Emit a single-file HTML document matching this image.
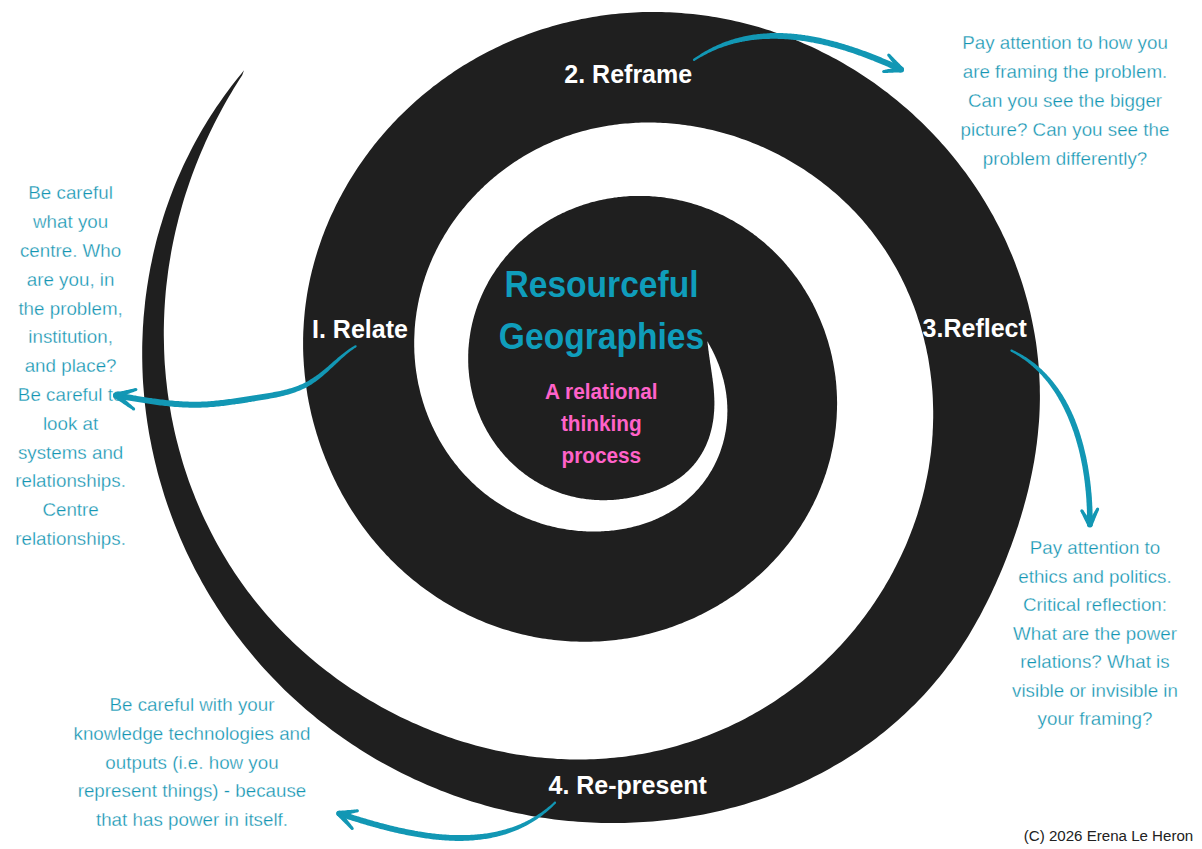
<!DOCTYPE html>
<html><head><meta charset="utf-8"><title>Resourceful Geographies</title>
<style>
html,body{margin:0;padding:0;background:#fff;width:1202px;height:849px;overflow:hidden}
svg{display:block;font-family:"Liberation Sans",sans-serif}
</style></head><body>
<svg width="1202" height="849" viewBox="0 0 1202 849">
<rect width="1202" height="849" fill="#fff"/>
<path d="M244.0 70.2 L240.9 74.3 L237.6 78.2 L234.4 82.2 L231.3 86.3 L228.2 90.4 L225.2 94.5 L222.2 98.7 L219.3 102.9 L216.4 107.1 L213.5 111.4 L210.7 115.7 L208.0 120.0 L205.3 124.4 L202.7 128.8 L200.1 133.2 L197.6 137.7 L195.1 142.2 L192.7 146.7 L190.4 151.3 L188.1 155.9 L185.8 160.5 L183.6 165.1 L181.5 169.7 L179.4 174.4 L177.4 179.1 L175.4 183.8 L173.5 188.6 L171.6 193.4 L169.8 198.2 L168.1 203.0 L166.4 207.8 L164.8 212.6 L163.2 217.5 L161.7 222.4 L160.2 227.3 L158.8 232.2 L157.4 237.1 L156.1 242.0 L154.9 247.0 L153.7 252.0 L152.6 256.9 L151.6 261.9 L150.5 266.9 L149.6 271.9 L148.7 276.9 L147.9 282.0 L147.1 287.0 L146.4 292.0 L145.7 297.1 L145.1 302.1 L144.6 307.2 L144.1 312.2 L143.6 317.3 L143.3 322.3 L142.9 327.4 L142.7 332.5 L142.5 337.5 L142.3 342.6 L142.2 347.6 L142.2 352.7 L142.2 357.7 L142.3 362.8 L142.4 367.8 L142.6 372.9 L142.8 377.9 L143.1 383.0 L143.5 388.0 L143.9 393.0 L144.3 398.0 L144.8 403.0 L145.4 408.0 L146.0 413.0 L146.7 418.0 L147.4 423.0 L148.2 427.9 L149.0 432.9 L149.9 437.8 L150.9 442.7 L151.8 447.6 L152.9 452.5 L154.0 457.4 L155.1 462.3 L156.3 467.1 L157.5 471.9 L158.8 476.8 L160.2 481.6 L161.6 486.3 L163.0 491.1 L164.5 495.9 L166.0 500.6 L167.6 505.3 L169.3 510.0 L171.0 514.7 L172.7 519.3 L174.5 523.9 L176.3 528.5 L178.2 533.1 L180.1 537.7 L182.1 542.2 L184.1 546.7 L186.1 551.2 L188.3 555.7 L190.4 560.1 L192.6 564.5 L194.8 568.9 L197.1 573.3 L199.5 577.6 L201.8 581.9 L204.3 586.2 L206.7 590.5 L209.2 594.7 L211.8 598.9 L214.4 603.0 L217.0 607.2 L219.7 611.3 L222.4 615.4 L225.1 619.4 L227.9 623.4 L230.8 627.4 L233.6 631.3 L236.5 635.3 L239.5 639.1 L242.5 643.0 L245.5 646.8 L248.6 650.6 L251.7 654.3 L254.8 658.1 L258.0 661.7 L261.2 665.4 L264.4 669.0 L267.7 672.6 L271.0 676.1 L274.4 679.6 L277.8 683.1 L281.2 686.5 L284.6 689.9 L288.1 693.2 L291.6 696.5 L295.2 699.8 L298.8 703.1 L302.4 706.3 L306.0 709.4 L309.7 712.5 L313.4 715.6 L317.1 718.7 L320.9 721.7 L324.7 724.6 L328.5 727.5 L332.3 730.4 L336.2 733.3 L340.1 736.1 L344.0 738.8 L348.0 741.5 L352.0 744.2 L356.0 746.8 L360.0 749.4 L364.0 752.0 L368.1 754.5 L372.2 756.9 L376.3 759.4 L380.4 761.7 L384.6 764.1 L388.8 766.3 L393.0 768.6 L397.2 770.8 L401.5 773.0 L405.7 775.1 L410.0 777.1 L414.3 779.2 L418.6 781.1 L423.0 783.1 L427.3 785.0 L431.7 786.8 L436.1 788.6 L440.5 790.4 L444.9 792.1 L449.3 793.7 L453.8 795.4 L458.3 796.9 L462.7 798.5 L467.2 799.9 L471.7 801.4 L476.2 802.8 L480.8 804.1 L485.3 805.4 L489.9 806.7 L494.4 807.9 L499.0 809.0 L503.6 810.1 L508.2 811.2 L512.8 812.2 L517.4 813.2 L522.0 814.1 L526.6 815.0 L531.2 815.9 L535.9 816.7 L540.5 817.4 L545.1 818.1 L549.8 818.8 L554.5 819.4 L559.1 819.9 L563.8 820.4 L568.4 820.9 L573.1 821.3 L577.8 821.7 L582.5 822.0 L587.1 822.3 L591.8 822.5 L596.5 822.7 L601.2 822.9 L605.9 823.0 L610.5 823.0 L615.2 823.0 L619.9 823.0 L624.6 822.9 L629.3 822.8 L633.9 822.6 L638.6 822.3 L643.3 822.1 L647.9 821.8 L652.6 821.4 L657.2 821.0 L661.9 820.5 L666.5 820.0 L671.2 819.5 L675.8 818.9 L680.4 818.3 L685.0 817.6 L689.7 816.8 L694.3 816.1 L698.9 815.2 L703.4 814.4 L708.0 813.4 L712.6 812.5 L717.1 811.5 L721.7 810.4 L726.2 809.3 L730.7 808.1 L735.2 806.9 L739.7 805.7 L744.2 804.4 L748.7 803.0 L753.1 801.6 L757.5 800.2 L762.0 798.7 L766.4 797.2 L770.7 795.6 L775.1 793.9 L779.4 792.3 L783.8 790.5 L788.1 788.8 L792.4 786.9 L796.6 785.1 L800.9 783.2 L805.1 781.2 L809.3 779.2 L813.5 777.1 L817.6 775.0 L821.7 772.9 L825.8 770.7 L829.9 768.4 L833.9 766.1 L838.0 763.8 L842.0 761.4 L845.9 759.0 L849.8 756.5 L853.7 754.0 L857.6 751.4 L861.5 748.8 L865.3 746.1 L869.0 743.4 L872.8 740.7 L876.5 737.9 L880.1 735.0 L883.8 732.2 L887.4 729.2 L890.9 726.3 L894.4 723.3 L897.9 720.2 L901.4 717.1 L904.8 714.0 L908.1 710.8 L911.4 707.6 L914.7 704.4 L918.0 701.1 L921.2 697.7 L924.3 694.4 L927.4 691.0 L930.5 687.5 L933.5 684.1 L936.4 680.5 L939.4 677.0 L942.2 673.4 L945.1 669.8 L947.8 666.1 L950.6 662.5 L953.3 658.7 L955.9 655.0 L958.5 651.2 L961.0 647.4 L963.5 643.6 L966.0 639.7 L968.4 635.9 L970.7 632.0 L973.0 628.0 L975.3 624.1 L977.5 620.1 L979.7 616.2 L981.8 612.2 L983.9 608.1 L986.0 604.1 L988.0 600.1 L990.0 596.0 L991.9 591.9 L993.8 587.8 L995.7 583.8 L997.5 579.6 L999.3 575.5 L1001.0 571.4 L1002.8 567.3 L1004.5 563.1 L1006.1 559.0 L1007.7 554.8 L1009.3 550.6 L1010.9 546.4 L1012.4 542.2 L1013.9 538.0 L1015.4 533.8 L1016.8 529.6 L1018.2 525.4 L1019.5 521.1 L1020.8 516.9 L1022.1 512.6 L1023.3 508.4 L1024.5 504.1 L1025.7 499.8 L1026.8 495.5 L1027.9 491.2 L1028.9 486.9 L1029.9 482.6 L1030.8 478.3 L1031.7 473.9 L1032.6 469.6 L1033.4 465.3 L1034.2 460.9 L1034.9 456.5 L1035.6 452.2 L1036.2 447.8 L1036.8 443.4 L1037.3 439.0 L1037.8 434.7 L1038.2 430.3 L1038.6 425.9 L1039.0 421.5 L1039.3 417.1 L1039.5 412.7 L1039.7 408.3 L1039.8 403.9 L1039.9 399.5 L1039.9 395.1 L1039.8 390.7 L1039.8 386.3 L1039.6 381.9 L1039.4 377.5 L1039.2 373.1 L1038.9 368.7 L1038.5 364.3 L1038.1 360.0 L1037.6 355.6 L1037.1 351.3 L1036.6 346.9 L1036.0 342.6 L1035.3 338.3 L1034.6 334.0 L1033.8 329.7 L1033.0 325.4 L1032.1 321.1 L1031.2 316.8 L1030.3 312.6 L1029.2 308.3 L1028.2 304.1 L1027.1 299.9 L1025.9 295.7 L1024.7 291.5 L1023.5 287.4 L1022.2 283.3 L1020.8 279.1 L1019.4 275.0 L1018.0 271.0 L1016.5 266.9 L1015.0 262.8 L1013.4 258.8 L1011.8 254.8 L1010.1 250.9 L1008.4 246.9 L1006.7 243.0 L1004.9 239.1 L1003.0 235.2 L1001.2 231.3 L999.3 227.5 L997.3 223.7 L995.3 219.9 L993.3 216.1 L991.2 212.4 L989.1 208.7 L986.9 205.0 L984.7 201.3 L982.5 197.7 L980.2 194.1 L977.9 190.5 L975.6 187.0 L973.2 183.5 L970.8 180.0 L968.3 176.5 L965.9 173.1 L963.3 169.7 L960.8 166.4 L958.2 163.0 L955.6 159.7 L953.0 156.5 L950.3 153.2 L947.6 150.0 L944.8 146.8 L942.0 143.7 L939.2 140.6 L936.4 137.5 L933.6 134.5 L930.7 131.5 L927.7 128.5 L924.8 125.5 L921.8 122.6 L918.8 119.7 L915.8 116.9 L912.8 114.1 L909.7 111.3 L906.6 108.6 L903.5 105.9 L900.3 103.2 L897.1 100.5 L893.9 97.9 L890.7 95.4 L887.5 92.8 L884.2 90.4 L880.9 87.9 L877.6 85.5 L874.3 83.1 L870.9 80.7 L867.5 78.4 L864.1 76.2 L860.7 73.9 L857.3 71.7 L853.8 69.6 L850.3 67.4 L846.9 65.4 L843.3 63.3 L839.8 61.3 L836.3 59.3 L832.7 57.4 L829.1 55.5 L825.5 53.7 L821.9 51.9 L818.3 50.1 L814.7 48.3 L811.0 46.6 L807.3 45.0 L803.7 43.4 L800.0 41.8 L796.3 40.3 L792.5 38.8 L788.8 37.3 L785.1 35.9 L781.3 34.5 L777.6 33.2 L773.8 31.9 L770.0 30.6 L766.2 29.4 L762.4 28.2 L758.6 27.1 L754.8 26.0 L751.0 25.0 L747.1 24.0 L743.3 23.0 L739.4 22.1 L735.6 21.2 L731.7 20.3 L727.9 19.5 L724.0 18.7 L720.1 18.0 L716.2 17.3 L712.4 16.7 L708.5 16.1 L704.6 15.5 L700.7 15.0 L696.8 14.5 L692.9 14.1 L689.1 13.7 L685.2 13.4 L681.3 13.0 L677.4 12.8 L673.5 12.5 L669.6 12.3 L665.7 12.2 L661.8 12.1 L658.0 12.0 L654.1 12.0 L650.2 12.0 L646.3 12.1 L642.5 12.1 L638.6 12.3 L634.8 12.5 L630.9 12.7 L627.1 12.9 L623.2 13.2 L619.4 13.6 L615.6 13.9 L611.7 14.3 L607.9 14.8 L604.1 15.3 L600.3 15.8 L596.6 16.4 L592.8 17.0 L589.0 17.7 L585.3 18.4 L581.5 19.1 L577.8 19.9 L574.1 20.7 L570.4 21.5 L566.7 22.4 L563.0 23.3 L559.3 24.3 L555.7 25.3 L552.0 26.3 L548.4 27.4 L544.8 28.5 L541.2 29.6 L537.6 30.8 L534.0 32.0 L530.5 33.3 L527.0 34.6 L523.4 35.9 L519.9 37.2 L516.5 38.6 L513.0 40.1 L509.6 41.5 L506.1 43.0 L502.7 44.6 L499.3 46.2 L496.0 47.8 L492.6 49.4 L489.3 51.1 L486.0 52.8 L482.7 54.5 L479.4 56.3 L476.2 58.1 L473.0 59.9 L469.8 61.8 L466.6 63.7 L463.4 65.6 L460.3 67.6 L457.2 69.6 L454.1 71.6 L451.1 73.7 L448.0 75.7 L445.0 77.9 L442.0 80.0 L439.1 82.2 L436.2 84.4 L433.2 86.6 L430.4 88.9 L427.5 91.2 L424.7 93.5 L421.9 95.8 L419.1 98.2 L416.4 100.6 L413.7 103.0 L411.0 105.5 L408.3 107.9 L405.7 110.4 L403.1 113.0 L400.5 115.5 L397.9 118.1 L395.4 120.7 L392.9 123.3 L390.5 126.0 L388.1 128.6 L385.7 131.3 L383.3 134.0 L381.0 136.8 L378.6 139.5 L376.4 142.3 L374.1 145.1 L371.9 147.9 L369.7 150.8 L367.6 153.7 L365.5 156.5 L363.4 159.4 L361.3 162.4 L359.3 165.3 L357.3 168.3 L355.4 171.2 L353.5 174.2 L351.6 177.3 L349.7 180.3 L347.9 183.3 L346.1 186.4 L344.4 189.5 L342.7 192.6 L341.0 195.7 L339.3 198.8 L337.7 201.9 L336.1 205.1 L334.6 208.2 L333.1 211.4 L331.6 214.6 L330.1 217.8 L328.7 221.0 L327.4 224.3 L326.0 227.5 L324.7 230.8 L323.5 234.0 L322.2 237.3 L321.1 240.6 L319.9 243.9 L318.8 247.2 L317.7 250.5 L316.7 253.8 L315.7 257.1 L314.7 260.5 L313.8 263.8 L312.9 267.2 L312.0 270.5 L311.2 273.9 L310.4 277.3 L309.7 280.6 L309.0 284.0 L308.3 287.4 L307.7 290.8 L307.1 294.2 L306.6 297.6 L306.1 301.0 L305.6 304.4 L305.2 307.8 L304.8 311.2 L304.5 314.6 L304.2 318.0 L303.9 321.4 L303.7 324.8 L303.5 328.2 L303.3 331.6 L303.2 335.0 L303.1 338.4 L303.1 341.8 L303.1 345.2 L303.1 348.6 L303.2 352.0 L303.3 355.3 L303.5 358.7 L303.7 362.1 L303.9 365.4 L304.2 368.8 L304.5 372.2 L304.8 375.5 L305.2 378.8 L305.6 382.2 L306.0 385.5 L306.5 388.8 L307.0 392.1 L307.5 395.4 L308.1 398.6 L308.7 401.9 L309.4 405.2 L310.1 408.4 L310.8 411.7 L311.5 414.9 L312.3 418.1 L313.1 421.3 L314.0 424.5 L314.9 427.7 L315.8 430.8 L316.7 434.0 L317.7 437.1 L318.7 440.2 L319.7 443.3 L320.8 446.4 L321.9 449.5 L323.0 452.6 L324.2 455.6 L325.3 458.6 L326.6 461.6 L327.8 464.6 L329.1 467.6 L330.4 470.6 L331.7 473.5 L333.1 476.5 L334.5 479.4 L335.9 482.3 L337.3 485.2 L338.8 488.0 L340.3 490.8 L341.8 493.7 L343.4 496.5 L345.0 499.2 L346.6 502.0 L348.2 504.7 L349.9 507.5 L351.6 510.2 L353.3 512.8 L355.1 515.5 L356.8 518.1 L358.6 520.7 L360.4 523.3 L362.3 525.9 L364.2 528.4 L366.1 531.0 L368.0 533.5 L369.9 535.9 L371.9 538.4 L373.9 540.8 L375.9 543.2 L377.9 545.6 L380.0 548.0 L382.1 550.3 L384.2 552.6 L386.3 554.9 L388.5 557.1 L390.6 559.4 L392.8 561.6 L395.1 563.7 L397.3 565.9 L399.5 568.0 L401.8 570.1 L404.1 572.2 L406.4 574.2 L408.8 576.2 L411.1 578.2 L413.5 580.2 L415.9 582.1 L418.3 584.0 L420.7 585.9 L423.2 587.7 L425.6 589.5 L428.1 591.3 L430.6 593.1 L433.1 594.8 L435.6 596.5 L438.2 598.2 L440.7 599.8 L443.3 601.4 L445.9 603.0 L448.5 604.5 L451.1 606.0 L453.7 607.5 L456.4 609.0 L459.0 610.4 L461.7 611.8 L464.4 613.1 L467.0 614.5 L469.7 615.8 L472.5 617.0 L475.2 618.3 L477.9 619.5 L480.6 620.6 L483.4 621.8 L486.1 622.9 L488.9 624.0 L491.7 625.0 L494.5 626.0 L497.2 627.0 L500.0 627.9 L502.8 628.9 L505.6 629.8 L508.5 630.6 L511.3 631.4 L514.1 632.2 L516.9 633.0 L519.8 633.7 L522.6 634.4 L525.4 635.1 L528.3 635.7 L531.1 636.3 L534.0 636.9 L536.8 637.4 L539.7 637.9 L542.5 638.4 L545.4 638.8 L548.2 639.2 L551.1 639.6 L553.9 640.0 L556.8 640.3 L559.6 640.6 L562.5 640.8 L565.3 641.0 L568.2 641.2 L571.0 641.4 L573.9 641.5 L576.7 641.6 L579.5 641.7 L582.4 641.7 L585.2 641.8 L588.0 641.7 L590.9 641.7 L593.7 641.6 L596.5 641.5 L599.3 641.4 L602.1 641.2 L604.9 641.0 L607.7 640.8 L610.4 640.5 L613.2 640.2 L616.0 639.9 L618.7 639.6 L621.5 639.2 L624.2 638.8 L627.0 638.4 L629.7 637.9 L632.4 637.4 L635.1 636.9 L637.8 636.4 L640.5 635.8 L643.2 635.2 L645.8 634.6 L648.5 633.9 L651.1 633.3 L653.8 632.6 L656.4 631.8 L659.0 631.1 L661.6 630.3 L664.2 629.5 L666.8 628.7 L669.3 627.8 L671.9 626.9 L674.4 626.0 L676.9 625.1 L679.4 624.1 L681.9 623.2 L684.4 622.1 L686.9 621.1 L689.3 620.1 L691.8 619.0 L694.2 617.9 L696.6 616.8 L699.0 615.6 L701.4 614.5 L703.7 613.3 L706.1 612.1 L708.4 610.8 L710.7 609.6 L713.0 608.3 L715.3 607.0 L717.6 605.7 L719.8 604.3 L722.1 603.0 L724.3 601.6 L726.5 600.2 L728.6 598.8 L730.8 597.3 L733.0 595.9 L735.1 594.4 L737.2 592.9 L739.3 591.4 L741.3 589.8 L743.4 588.3 L745.4 586.7 L747.4 585.1 L749.4 583.5 L751.4 581.8 L753.4 580.2 L755.3 578.5 L757.2 576.8 L759.1 575.2 L761.0 573.4 L762.9 571.7 L764.7 570.0 L766.5 568.2 L768.3 566.4 L770.1 564.6 L771.8 562.8 L773.6 561.0 L775.3 559.1 L777.0 557.3 L778.6 555.4 L780.3 553.5 L781.9 551.6 L783.5 549.7 L785.1 547.8 L786.7 545.8 L788.2 543.9 L789.7 541.9 L791.2 539.9 L792.7 537.9 L794.1 535.9 L795.5 533.9 L796.9 531.8 L798.3 529.8 L799.7 527.7 L801.0 525.7 L802.3 523.6 L803.6 521.5 L804.9 519.4 L806.1 517.3 L807.3 515.2 L808.5 513.1 L809.7 510.9 L810.8 508.8 L812.0 506.6 L813.1 504.5 L814.1 502.3 L815.2 500.1 L816.2 497.9 L817.2 495.7 L818.2 493.5 L819.1 491.3 L820.1 489.1 L821.0 486.8 L821.8 484.6 L822.7 482.4 L823.5 480.1 L824.3 477.9 L825.1 475.6 L825.9 473.4 L826.6 471.1 L827.3 468.8 L828.0 466.5 L828.6 464.3 L829.3 462.0 L829.9 459.7 L830.5 457.4 L831.0 455.1 L831.5 452.8 L832.0 450.5 L832.5 448.2 L833.0 445.9 L833.4 443.6 L833.8 441.3 L834.2 439.0 L834.6 436.7 L834.9 434.4 L835.2 432.1 L835.5 429.7 L835.8 427.4 L836.0 425.1 L836.2 422.8 L836.4 420.5 L836.6 418.2 L836.7 415.9 L836.8 413.6 L836.9 411.3 L837.0 409.0 L837.0 406.7 L837.1 404.4 L837.1 402.1 L837.0 399.8 L837.0 397.5 L836.9 395.3 L836.8 393.0 L836.7 390.7 L836.5 388.4 L836.4 386.2 L836.2 383.9 L836.0 381.6 L835.7 379.4 L835.5 377.1 L835.2 374.9 L834.9 372.7 L834.5 370.4 L834.2 368.2 L833.8 366.0 L833.4 363.8 L833.0 361.6 L832.5 359.4 L832.1 357.2 L831.6 355.0 L831.1 352.9 L830.6 350.7 L830.0 348.6 L829.4 346.4 L828.8 344.3 L828.2 342.1 L827.6 340.0 L826.9 337.9 L826.2 335.8 L825.5 333.7 L824.8 331.6 L824.1 329.6 L823.3 327.5 L822.5 325.5 L821.7 323.4 L820.9 321.4 L820.1 319.4 L819.2 317.4 L818.3 315.4 L817.4 313.4 L816.5 311.4 L815.6 309.4 L814.6 307.5 L813.6 305.6 L812.7 303.6 L811.6 301.7 L810.6 299.8 L809.6 297.9 L808.5 296.1 L807.4 294.2 L806.3 292.4 L805.2 290.5 L804.0 288.7 L802.9 286.9 L801.7 285.1 L800.5 283.3 L799.3 281.6 L798.1 279.8 L796.9 278.1 L795.6 276.4 L794.3 274.7 L793.0 273.0 L791.7 271.3 L790.4 269.7 L789.1 268.0 L787.7 266.4 L786.4 264.8 L785.0 263.2 L783.6 261.6 L782.2 260.1 L780.8 258.5 L779.3 257.0 L777.9 255.5 L776.4 254.0 L774.9 252.5 L773.4 251.0 L771.9 249.6 L770.4 248.2 L768.9 246.8 L767.3 245.4 L765.8 244.0 L764.2 242.6 L762.6 241.3 L761.0 240.0 L759.4 238.7 L757.8 237.4 L756.2 236.1 L754.5 234.9 L752.9 233.6 L751.2 232.4 L749.5 231.2 L747.8 230.1 L746.2 228.9 L744.4 227.8 L742.7 226.6 L741.0 225.5 L739.3 224.5 L737.5 223.4 L735.8 222.4 L734.0 221.3 L732.3 220.3 L730.5 219.4 L728.7 218.4 L726.9 217.4 L725.1 216.5 L723.3 215.6 L721.5 214.7 L719.6 213.9 L717.8 213.0 L716.0 212.2 L714.1 211.4 L712.3 210.6 L710.4 209.8 L708.6 209.1 L706.7 208.4 L704.8 207.7 L702.9 207.0 L701.1 206.3 L699.2 205.7 L697.3 205.0 L695.4 204.4 L693.5 203.9 L691.6 203.3 L689.7 202.8 L687.8 202.2 L685.8 201.7 L683.9 201.3 L682.0 200.8 L680.1 200.4 L678.1 199.9 L676.2 199.5 L674.3 199.2 L672.3 198.8 L670.4 198.5 L668.5 198.2 L666.5 197.9 L664.6 197.6 L662.7 197.3 L660.7 197.1 L658.8 196.9 L656.8 196.7 L654.9 196.5 L652.9 196.4 L651.0 196.2 L649.1 196.1 L647.1 196.0 L645.2 196.0 L643.3 195.9 L641.3 195.9 L639.4 195.9 L637.5 195.9 L635.5 195.9 L633.6 196.0 L631.7 196.1 L629.8 196.1 L627.8 196.3 L625.9 196.4 L624.0 196.5 L622.1 196.7 L620.2 196.9 L618.3 197.1 L616.4 197.4 L614.5 197.6 L612.6 197.9 L610.7 198.2 L608.9 198.5 L607.0 198.8 L605.1 199.2 L603.3 199.5 L601.4 199.9 L599.6 200.3 L597.7 200.8 L595.9 201.2 L594.1 201.7 L592.2 202.1 L590.4 202.6 L588.6 203.2 L586.8 203.7 L585.0 204.3 L583.2 204.8 L581.5 205.4 L579.7 206.0 L577.9 206.7 L576.2 207.3 L574.5 208.0 L572.7 208.7 L571.0 209.4 L569.3 210.1 L567.6 210.8 L565.9 211.6 L564.2 212.4 L562.5 213.1 L560.8 214.0 L559.2 214.8 L557.5 215.6 L555.9 216.5 L554.3 217.3 L552.7 218.2 L551.1 219.1 L549.5 220.1 L547.9 221.0 L546.3 221.9 L544.8 222.9 L543.2 223.9 L541.7 224.9 L540.2 225.9 L538.7 226.9 L537.2 228.0 L535.7 229.0 L534.3 230.1 L532.8 231.2 L531.4 232.3 L529.9 233.4 L528.5 234.6 L527.1 235.7 L525.7 236.9 L524.4 238.0 L523.0 239.2 L521.7 240.4 L520.3 241.6 L519.0 242.8 L517.7 244.1 L516.4 245.3 L515.2 246.6 L513.9 247.9 L512.7 249.2 L511.4 250.5 L510.2 251.8 L509.0 253.1 L507.9 254.4 L506.7 255.8 L505.5 257.1 L504.4 258.5 L503.3 259.9 L502.2 261.2 L501.1 262.6 L500.0 264.0 L499.0 265.5 L498.0 266.9 L496.9 268.3 L495.9 269.8 L495.0 271.2 L494.0 272.7 L493.0 274.2 L492.1 275.6 L491.2 277.1 L490.3 278.6 L489.4 280.1 L488.5 281.6 L487.7 283.2 L486.9 284.7 L486.1 286.2 L485.3 287.8 L484.5 289.3 L483.7 290.9 L483.0 292.4 L482.3 294.0 L481.6 295.6 L480.9 297.2 L480.2 298.7 L479.6 300.3 L478.9 301.9 L478.3 303.5 L477.7 305.1 L477.1 306.7 L476.6 308.3 L476.0 310.0 L475.5 311.6 L475.0 313.2 L474.5 314.8 L474.0 316.5 L473.6 318.1 L473.1 319.7 L472.7 321.4 L472.3 323.0 L471.9 324.7 L471.6 326.3 L471.2 328.0 L470.9 329.6 L470.6 331.3 L470.3 332.9 L470.1 334.6 L469.8 336.2 L469.6 337.9 L469.3 339.5 L469.2 341.2 L469.0 342.8 L468.8 344.5 L468.7 346.1 L468.5 347.8 L468.4 349.4 L468.3 351.1 L468.3 352.7 L468.2 354.4 L468.2 356.0 L468.2 357.7 L468.2 359.3 L468.2 361.0 L468.2 362.6 L468.3 364.2 L468.3 365.9 L468.4 367.5 L468.5 369.1 L468.7 370.8 L468.8 372.4 L469.0 374.0 L469.1 375.6 L469.3 377.2 L469.5 378.8 L469.8 380.4 L470.0 382.0 L470.3 383.6 L470.5 385.2 L470.8 386.8 L471.1 388.3 L471.5 389.9 L471.8 391.5 L472.2 393.0 L472.5 394.6 L472.9 396.1 L473.3 397.7 L473.8 399.2 L474.2 400.7 L474.7 402.2 L475.1 403.7 L475.6 405.2 L476.1 406.7 L476.6 408.2 L477.2 409.7 L477.7 411.2 L478.3 412.7 L478.9 414.1 L479.5 415.6 L480.1 417.0 L480.7 418.4 L481.3 419.9 L482.0 421.3 L482.6 422.7 L483.3 424.1 L484.0 425.4 L484.7 426.8 L485.5 428.2 L486.2 429.5 L486.9 430.9 L487.7 432.2 L488.5 433.6 L489.3 434.9 L490.1 436.2 L490.9 437.5 L491.7 438.8 L492.5 440.0 L493.4 441.3 L494.3 442.5 L495.1 443.8 L496.0 445.0 L496.9 446.2 L497.8 447.4 L498.8 448.6 L499.7 449.8 L500.6 451.0 L501.6 452.1 L502.6 453.3 L503.6 454.4 L504.5 455.5 L505.5 456.7 L506.6 457.7 L507.6 458.8 L508.6 459.9 L509.6 461.0 L510.7 462.0 L511.8 463.0 L512.8 464.1 L513.9 465.1 L515.0 466.1 L516.1 467.0 L517.2 468.0 L518.3 469.0 L519.4 469.9 L520.6 470.8 L521.7 471.7 L522.9 472.6 L524.0 473.5 L525.2 474.4 L526.4 475.3 L527.5 476.1 L528.7 476.9 L529.9 477.7 L531.1 478.5 L532.3 479.3 L533.5 480.1 L534.7 480.9 L536.0 481.6 L537.2 482.3 L538.4 483.0 L539.7 483.7 L540.9 484.4 L542.2 485.1 L543.4 485.8 L544.7 486.4 L546.0 487.0 L547.2 487.6 L548.5 488.2 L549.8 488.8 L551.1 489.4 L552.4 490.0 L553.7 490.5 L555.0 491.0 L556.3 491.5 L557.6 492.0 L558.9 492.5 L560.2 493.0 L561.5 493.4 L562.8 493.9 L564.1 494.3 L565.5 494.7 L566.8 495.1 L568.1 495.4 L569.4 495.8 L570.8 496.2 L572.1 496.5 L573.4 496.8 L574.8 497.1 L576.1 497.4 L577.4 497.7 L578.8 497.9 L580.1 498.2 L581.4 498.4 L582.8 498.6 L584.1 498.8 L585.4 499.0 L586.8 499.2 L588.1 499.3 L589.4 499.5 L590.8 499.6 L592.1 499.7 L593.4 499.8 L594.7 499.9 L596.1 500.0 L597.4 500.1 L598.7 500.1 L600.0 500.2 L601.4 500.2 L602.7 500.2 L604.0 500.2 L605.3 500.2 L606.6 500.2 L607.9 500.1 L609.2 500.1 L610.5 500.0 L611.8 500.0 L613.1 499.9 L614.4 499.8 L615.7 499.7 L617.0 499.5 L618.3 499.4 L619.5 499.3 L620.8 499.1 L622.1 499.0 L623.4 498.8 L624.6 498.6 L625.9 498.4 L627.2 498.2 L628.4 498.0 L629.7 497.8 L630.9 497.5 L632.2 497.3 L633.4 497.0 L634.6 496.8 L635.9 496.5 L637.1 496.2 L638.3 495.9 L639.5 495.6 L640.7 495.3 L642.0 495.0 L643.2 494.7 L644.4 494.3 L645.6 494.0 L646.8 493.6 L648.0 493.2 L649.1 492.9 L650.3 492.5 L651.5 492.1 L652.7 491.7 L653.8 491.2 L655.0 490.8 L656.2 490.4 L657.3 489.9 L658.5 489.5 L659.6 489.0 L660.7 488.5 L661.9 488.0 L663.0 487.5 L664.1 487.0 L665.2 486.4 L666.3 485.9 L667.4 485.3 L668.5 484.8 L669.6 484.2 L670.7 483.6 L671.7 483.0 L672.8 482.4 L673.8 481.7 L674.9 481.1 L675.9 480.4 L676.9 479.8 L677.9 479.1 L678.9 478.4 L679.9 477.7 L680.9 476.9 L681.9 476.2 L682.8 475.5 L683.8 474.7 L684.7 473.9 L685.6 473.1 L686.5 472.3 L687.4 471.5 L688.3 470.7 L689.2 469.8 L690.0 469.0 L690.9 468.1 L691.7 467.2 L692.5 466.3 L693.3 465.4 L694.1 464.5 L694.8 463.6 L695.6 462.7 L696.3 461.7 L697.0 460.8 L697.8 459.8 L698.4 458.8 L699.1 457.8 L699.8 456.8 L700.4 455.8 L701.0 454.8 L701.7 453.8 L702.2 452.8 L702.8 451.7 L703.4 450.7 L703.9 449.7 L704.5 448.6 L705.0 447.6 L705.5 446.5 L706.0 445.4 L706.4 444.4 L706.9 443.3 L707.3 442.2 L707.8 441.1 L708.2 440.0 L708.6 439.0 L709.0 437.9 L709.3 436.8 L709.7 435.7 L710.0 434.6 L710.3 433.5 L710.6 432.4 L710.9 431.3 L711.2 430.2 L711.5 429.1 L711.7 428.0 L712.0 426.9 L712.2 425.8 L712.4 424.7 L712.6 423.6 L712.8 422.5 L713.0 421.4 L713.2 420.3 L713.3 419.3 L713.5 418.2 L713.6 417.1 L713.7 416.0 L713.8 414.9 L713.9 413.8 L714.0 412.8 L714.1 411.7 L714.2 410.6 L714.2 409.6 L714.3 408.5 L714.3 407.4 L714.3 406.4 L714.4 405.3 L714.4 404.3 L714.4 403.2 L714.4 402.2 L714.4 401.1 L714.3 400.1 L714.3 399.1 L714.3 398.1 L714.2 397.0 L714.2 396.0 L714.1 395.0 L714.1 394.0 L714.0 393.0 L713.9 392.0 L713.9 391.0 L713.8 390.0 L713.7 389.0 L713.6 388.0 L713.5 387.0 L713.4 386.1 L713.3 385.1 L713.2 384.1 L713.1 383.1 L713.0 382.2 L712.8 381.2 L712.7 380.3 L712.6 379.3 L712.5 378.3 L712.3 377.4 L712.2 376.4 L712.1 375.5 L711.9 374.6 L711.8 373.6 L711.7 372.7 L711.5 371.7 L711.4 370.8 L711.3 369.9 L711.1 368.9 L711.0 368.0 L710.8 367.1 L710.7 366.1 L710.6 365.2 L710.4 364.3 L710.3 363.4 L710.1 362.4 L710.0 361.5 L709.9 360.6 L709.7 359.6 L709.6 358.7 L709.5 357.8 L709.3 356.8 L709.2 355.9 L709.1 354.9 L708.9 354.0 L708.8 353.0 L708.7 352.1 L708.6 351.1 L708.4 350.2 L708.3 349.2 L708.2 348.2 L708.1 347.2 L708.0 346.3 L707.8 345.3 L707.7 344.3 L707.6 343.3 L707.5 342.3 L707.4 341.3 L706.5 340.6 L706.5 340.6 L707.4 341.3 L707.9 342.1 L708.4 343.0 L708.8 343.9 L709.3 344.7 L709.8 345.6 L710.3 346.5 L710.8 347.4 L711.2 348.2 L711.7 349.1 L712.2 350.0 L712.6 350.9 L713.1 351.8 L713.5 352.8 L714.0 353.7 L714.4 354.6 L714.8 355.5 L715.3 356.5 L715.7 357.4 L716.1 358.3 L716.5 359.3 L716.9 360.2 L717.3 361.2 L717.7 362.2 L718.1 363.2 L718.5 364.1 L718.8 365.1 L719.2 366.1 L719.6 367.1 L719.9 368.1 L720.3 369.1 L720.6 370.1 L721.0 371.2 L721.3 372.2 L721.6 373.2 L721.9 374.3 L722.2 375.3 L722.5 376.4 L722.8 377.4 L723.1 378.5 L723.4 379.5 L723.7 380.6 L723.9 381.7 L724.2 382.8 L724.4 383.9 L724.7 385.0 L724.9 386.1 L725.1 387.2 L725.3 388.3 L725.5 389.4 L725.7 390.6 L725.9 391.7 L726.1 392.8 L726.2 394.0 L726.4 395.1 L726.5 396.3 L726.6 397.5 L726.8 398.6 L726.9 399.8 L727.0 401.0 L727.1 402.2 L727.1 403.3 L727.2 404.5 L727.3 405.7 L727.3 406.9 L727.3 408.1 L727.4 409.3 L727.4 410.6 L727.4 411.8 L727.3 413.0 L727.3 414.2 L727.3 415.5 L727.2 416.7 L727.2 417.9 L727.1 419.2 L727.0 420.4 L726.9 421.7 L726.8 422.9 L726.6 424.2 L726.5 425.4 L726.3 426.7 L726.2 428.0 L726.0 429.2 L725.8 430.5 L725.6 431.8 L725.3 433.0 L725.1 434.3 L724.8 435.6 L724.6 436.8 L724.3 438.1 L724.0 439.4 L723.6 440.7 L723.3 442.0 L723.0 443.2 L722.6 444.5 L722.2 445.8 L721.8 447.1 L721.4 448.3 L721.0 449.6 L720.5 450.9 L720.1 452.2 L719.6 453.4 L719.1 454.7 L718.6 456.0 L718.1 457.2 L717.5 458.5 L717.0 459.7 L716.4 461.0 L715.8 462.3 L715.2 463.5 L714.6 464.7 L714.0 466.0 L713.3 467.2 L712.6 468.4 L712.0 469.7 L711.2 470.9 L710.5 472.1 L709.8 473.3 L709.0 474.5 L708.3 475.7 L707.5 476.9 L706.7 478.1 L705.8 479.3 L705.0 480.4 L704.2 481.6 L703.3 482.7 L702.4 483.9 L701.5 485.0 L700.6 486.1 L699.6 487.3 L698.7 488.4 L697.7 489.5 L696.7 490.5 L695.7 491.6 L694.7 492.7 L693.7 493.7 L692.7 494.8 L691.6 495.8 L690.5 496.8 L689.4 497.8 L688.3 498.8 L687.2 499.8 L686.1 500.8 L684.9 501.7 L683.7 502.7 L682.6 503.6 L681.4 504.5 L680.2 505.4 L678.9 506.3 L677.7 507.2 L676.5 508.0 L675.2 508.9 L673.9 509.7 L672.6 510.5 L671.3 511.3 L670.0 512.1 L668.7 512.9 L667.4 513.6 L666.0 514.3 L664.7 515.1 L663.3 515.8 L661.9 516.5 L660.5 517.1 L659.1 517.8 L657.7 518.4 L656.3 519.1 L654.9 519.7 L653.4 520.3 L652.0 520.9 L650.5 521.4 L649.1 522.0 L647.6 522.5 L646.1 523.0 L644.6 523.5 L643.1 524.0 L641.6 524.5 L640.1 525.0 L638.6 525.4 L637.1 525.8 L635.5 526.2 L634.0 526.6 L632.5 527.0 L630.9 527.4 L629.3 527.7 L627.8 528.1 L626.2 528.4 L624.6 528.7 L623.0 529.0 L621.4 529.2 L619.8 529.5 L618.2 529.7 L616.6 530.0 L615.0 530.2 L613.4 530.4 L611.8 530.5 L610.1 530.7 L608.5 530.9 L606.9 531.0 L605.2 531.1 L603.6 531.2 L601.9 531.3 L600.3 531.4 L598.6 531.4 L597.0 531.5 L595.3 531.5 L593.6 531.5 L591.9 531.5 L590.3 531.5 L588.6 531.4 L586.9 531.4 L585.2 531.3 L583.5 531.2 L581.8 531.1 L580.1 531.0 L578.4 530.9 L576.7 530.7 L575.0 530.5 L573.3 530.3 L571.6 530.1 L569.9 529.9 L568.2 529.7 L566.5 529.4 L564.8 529.1 L563.1 528.8 L561.4 528.5 L559.6 528.2 L557.9 527.9 L556.2 527.5 L554.5 527.1 L552.8 526.7 L551.1 526.3 L549.4 525.8 L547.6 525.4 L545.9 524.9 L544.2 524.4 L542.5 523.9 L540.8 523.4 L539.1 522.8 L537.4 522.2 L535.7 521.6 L534.0 521.0 L532.3 520.4 L530.6 519.8 L528.9 519.1 L527.2 518.4 L525.5 517.7 L523.9 517.0 L522.2 516.2 L520.5 515.5 L518.9 514.7 L517.2 513.9 L515.5 513.1 L513.9 512.3 L512.2 511.4 L510.6 510.5 L509.0 509.6 L507.3 508.7 L505.7 507.8 L504.1 506.8 L502.5 505.8 L500.9 504.8 L499.3 503.8 L497.7 502.8 L496.1 501.8 L494.6 500.7 L493.0 499.6 L491.4 498.5 L489.9 497.4 L488.4 496.2 L486.8 495.1 L485.3 493.9 L483.8 492.7 L482.3 491.4 L480.8 490.2 L479.4 488.9 L477.9 487.7 L476.4 486.4 L475.0 485.1 L473.6 483.7 L472.1 482.4 L470.7 481.0 L469.3 479.6 L468.0 478.2 L466.6 476.8 L465.2 475.4 L463.9 473.9 L462.5 472.4 L461.2 470.9 L459.9 469.4 L458.6 467.9 L457.4 466.3 L456.1 464.8 L454.8 463.2 L453.6 461.6 L452.4 460.0 L451.2 458.4 L450.0 456.7 L448.8 455.1 L447.7 453.4 L446.5 451.7 L445.4 450.0 L444.3 448.3 L443.2 446.5 L442.1 444.8 L441.1 443.0 L440.0 441.2 L439.0 439.4 L438.0 437.6 L437.0 435.8 L436.1 434.0 L435.1 432.1 L434.2 430.2 L433.3 428.3 L432.4 426.5 L431.5 424.5 L430.6 422.6 L429.8 420.7 L429.0 418.7 L428.2 416.8 L427.4 414.8 L426.7 412.8 L425.9 410.8 L425.2 408.8 L424.5 406.8 L423.9 404.8 L423.2 402.7 L422.6 400.7 L422.0 398.6 L421.4 396.5 L420.8 394.5 L420.3 392.4 L419.8 390.3 L419.3 388.1 L418.8 386.0 L418.3 383.9 L417.9 381.8 L417.5 379.6 L417.1 377.5 L416.8 375.3 L416.4 373.1 L416.1 370.9 L415.8 368.8 L415.5 366.6 L415.3 364.4 L415.1 362.2 L414.9 359.9 L414.7 357.7 L414.6 355.5 L414.4 353.3 L414.3 351.0 L414.3 348.8 L414.2 346.6 L414.2 344.3 L414.2 342.1 L414.2 339.8 L414.3 337.6 L414.4 335.3 L414.5 333.0 L414.6 330.8 L414.7 328.5 L414.9 326.2 L415.1 324.0 L415.3 321.7 L415.6 319.4 L415.9 317.1 L416.2 314.9 L416.5 312.6 L416.9 310.3 L417.3 308.0 L417.7 305.8 L418.1 303.5 L418.6 301.2 L419.0 299.0 L419.6 296.7 L420.1 294.4 L420.7 292.2 L421.3 289.9 L421.9 287.6 L422.5 285.4 L423.2 283.1 L423.9 280.9 L424.6 278.7 L425.3 276.4 L426.1 274.2 L426.9 272.0 L427.7 269.8 L428.6 267.5 L429.5 265.3 L430.4 263.1 L431.3 260.9 L432.2 258.8 L433.2 256.6 L434.2 254.4 L435.3 252.2 L436.3 250.1 L437.4 248.0 L438.5 245.8 L439.6 243.7 L440.8 241.6 L442.0 239.5 L443.2 237.4 L444.4 235.3 L445.7 233.2 L447.0 231.2 L448.3 229.1 L449.6 227.1 L450.9 225.0 L452.3 223.0 L453.7 221.0 L455.2 219.0 L456.6 217.0 L458.1 215.1 L459.6 213.1 L461.1 211.2 L462.6 209.3 L464.2 207.4 L465.8 205.5 L467.4 203.6 L469.0 201.7 L470.7 199.9 L472.4 198.0 L474.1 196.2 L475.8 194.4 L477.5 192.6 L479.3 190.9 L481.1 189.1 L482.9 187.4 L484.7 185.6 L486.5 183.9 L488.4 182.3 L490.3 180.6 L492.2 178.9 L494.1 177.3 L496.1 175.7 L498.1 174.1 L500.1 172.5 L502.1 171.0 L504.1 169.4 L506.1 167.9 L508.2 166.4 L510.3 165.0 L512.4 163.5 L514.5 162.1 L516.7 160.7 L518.8 159.3 L521.0 157.9 L523.2 156.6 L525.4 155.3 L527.6 154.0 L529.9 152.7 L532.1 151.5 L534.4 150.2 L536.7 149.0 L539.0 147.9 L541.4 146.7 L543.7 145.6 L546.1 144.5 L548.4 143.4 L550.8 142.4 L553.2 141.3 L555.6 140.3 L558.1 139.4 L560.5 138.4 L563.0 137.5 L565.4 136.6 L567.9 135.7 L570.4 134.9 L572.9 134.1 L575.4 133.3 L578.0 132.5 L580.5 131.8 L583.1 131.1 L585.6 130.4 L588.2 129.8 L590.8 129.1 L593.4 128.5 L596.0 128.0 L598.6 127.4 L601.2 126.9 L603.8 126.4 L606.5 126.0 L609.1 125.6 L611.8 125.2 L614.4 124.8 L617.1 124.4 L619.7 124.1 L622.4 123.8 L625.1 123.6 L627.8 123.4 L630.5 123.2 L633.2 123.0 L635.9 122.8 L638.6 122.7 L641.3 122.6 L644.0 122.6 L646.7 122.5 L649.4 122.5 L652.2 122.6 L654.9 122.6 L657.6 122.7 L660.3 122.8 L663.1 122.9 L665.8 123.1 L668.6 123.3 L671.3 123.5 L674.0 123.8 L676.8 124.0 L679.5 124.3 L682.2 124.7 L685.0 125.0 L687.7 125.4 L690.5 125.8 L693.2 126.3 L695.9 126.7 L698.7 127.2 L701.4 127.7 L704.1 128.3 L706.9 128.9 L709.6 129.5 L712.3 130.1 L715.0 130.8 L717.7 131.4 L720.5 132.2 L723.2 132.9 L725.9 133.7 L728.6 134.5 L731.3 135.3 L734.0 136.1 L736.7 137.0 L739.4 137.9 L742.0 138.9 L744.7 139.8 L747.4 140.8 L750.0 141.8 L752.7 142.9 L755.4 143.9 L758.0 145.0 L760.6 146.2 L763.3 147.3 L765.9 148.5 L768.5 149.7 L771.1 151.0 L773.7 152.2 L776.3 153.5 L778.9 154.8 L781.4 156.2 L784.0 157.6 L786.5 159.0 L789.1 160.4 L791.6 161.9 L794.1 163.4 L796.6 164.9 L799.1 166.4 L801.6 168.0 L804.1 169.6 L806.5 171.2 L809.0 172.9 L811.4 174.5 L813.8 176.3 L816.2 178.0 L818.6 179.7 L821.0 181.5 L823.4 183.4 L825.7 185.2 L828.0 187.1 L830.3 189.0 L832.6 190.9 L834.9 192.8 L837.2 194.8 L839.4 196.8 L841.7 198.9 L843.9 200.9 L846.0 203.0 L848.2 205.1 L850.4 207.3 L852.5 209.4 L854.6 211.6 L856.7 213.8 L858.7 216.1 L860.8 218.3 L862.8 220.6 L864.8 223.0 L866.8 225.3 L868.7 227.7 L870.7 230.1 L872.6 232.5 L874.4 234.9 L876.3 237.4 L878.1 239.9 L879.9 242.4 L881.7 245.0 L883.4 247.5 L885.2 250.1 L886.9 252.7 L888.5 255.3 L890.2 258.0 L891.8 260.7 L893.4 263.4 L894.9 266.1 L896.5 268.8 L898.0 271.6 L899.4 274.3 L900.9 277.1 L902.3 280.0 L903.7 282.8 L905.0 285.6 L906.4 288.5 L907.6 291.4 L908.9 294.3 L910.2 297.2 L911.4 300.2 L912.5 303.1 L913.7 306.1 L914.8 309.1 L915.9 312.1 L916.9 315.1 L917.9 318.2 L918.9 321.2 L919.9 324.3 L920.8 327.3 L921.7 330.4 L922.6 333.5 L923.4 336.7 L924.2 339.8 L924.9 342.9 L925.7 346.1 L926.4 349.2 L927.0 352.4 L927.7 355.6 L928.3 358.8 L928.8 362.0 L929.3 365.2 L929.8 368.5 L930.3 371.7 L930.7 374.9 L931.1 378.2 L931.5 381.5 L931.8 384.7 L932.1 388.0 L932.4 391.3 L932.6 394.6 L932.8 397.9 L932.9 401.2 L933.0 404.5 L933.1 407.8 L933.2 411.1 L933.2 414.4 L933.2 417.8 L933.1 421.1 L933.0 424.4 L932.9 427.7 L932.7 431.1 L932.6 434.4 L932.3 437.8 L932.1 441.1 L931.8 444.5 L931.4 447.8 L931.1 451.2 L930.7 454.5 L930.2 457.8 L929.7 461.2 L929.2 464.5 L928.7 467.9 L928.1 471.2 L927.5 474.6 L926.8 477.9 L926.1 481.2 L925.4 484.6 L924.7 487.9 L923.9 491.2 L923.1 494.6 L922.2 497.9 L921.3 501.2 L920.4 504.5 L919.4 507.8 L918.4 511.1 L917.4 514.4 L916.3 517.7 L915.2 520.9 L914.0 524.2 L912.9 527.5 L911.6 530.7 L910.4 534.0 L909.1 537.2 L907.8 540.5 L906.5 543.7 L905.1 546.9 L903.7 550.1 L902.2 553.3 L900.7 556.5 L899.2 559.6 L897.6 562.8 L896.0 566.0 L894.4 569.1 L892.8 572.2 L891.1 575.3 L889.4 578.4 L887.6 581.5 L885.8 584.6 L884.0 587.7 L882.1 590.7 L880.2 593.7 L878.3 596.7 L876.3 599.8 L874.4 602.7 L872.3 605.7 L870.3 608.7 L868.2 611.6 L866.1 614.5 L863.9 617.4 L861.7 620.3 L859.5 623.2 L857.2 626.0 L855.0 628.9 L852.6 631.7 L850.3 634.5 L847.9 637.2 L845.5 640.0 L843.0 642.7 L840.6 645.4 L838.1 648.1 L835.5 650.8 L832.9 653.4 L830.3 656.0 L827.7 658.6 L825.0 661.2 L822.3 663.8 L819.6 666.3 L816.8 668.8 L814.1 671.2 L811.2 673.7 L808.4 676.1 L805.5 678.5 L802.6 680.9 L799.7 683.2 L796.7 685.5 L793.7 687.8 L790.7 690.1 L787.6 692.3 L784.5 694.5 L781.4 696.6 L778.3 698.8 L775.1 700.9 L772.0 703.0 L768.7 705.0 L765.5 707.0 L762.2 709.0 L758.9 710.9 L755.6 712.8 L752.3 714.7 L748.9 716.6 L745.5 718.4 L742.1 720.2 L738.6 721.9 L735.2 723.6 L731.7 725.3 L728.2 726.9 L724.6 728.5 L721.1 730.1 L717.5 731.6 L713.9 733.1 L710.3 734.6 L706.6 736.0 L703.0 737.3 L699.3 738.7 L695.6 740.0 L691.9 741.2 L688.1 742.5 L684.4 743.6 L680.6 744.8 L676.8 745.9 L673.0 746.9 L669.2 748.0 L665.3 748.9 L661.5 749.9 L657.6 750.8 L653.7 751.6 L649.8 752.4 L645.9 753.2 L642.0 753.9 L638.0 754.6 L634.1 755.2 L630.1 755.8 L626.1 756.4 L622.1 756.9 L618.1 757.3 L614.1 757.8 L610.1 758.1 L606.1 758.5 L602.1 758.7 L598.0 759.0 L594.0 759.2 L589.9 759.3 L585.9 759.4 L581.8 759.5 L577.7 759.5 L573.7 759.5 L569.6 759.4 L565.5 759.3 L561.4 759.1 L557.3 758.9 L553.2 758.6 L549.1 758.3 L545.1 758.0 L541.0 757.6 L536.9 757.2 L532.8 756.7 L528.7 756.2 L524.6 755.6 L520.5 755.0 L516.4 754.4 L512.3 753.7 L508.2 752.9 L504.2 752.1 L500.1 751.3 L496.0 750.4 L491.9 749.5 L487.9 748.6 L483.8 747.6 L479.8 746.5 L475.7 745.4 L471.7 744.3 L467.6 743.1 L463.6 741.9 L459.6 740.7 L455.6 739.4 L451.6 738.0 L447.6 736.7 L443.6 735.2 L439.6 733.8 L435.6 732.3 L431.7 730.7 L427.7 729.1 L423.8 727.5 L419.9 725.8 L416.0 724.1 L412.1 722.4 L408.2 720.6 L404.3 718.7 L400.4 716.9 L396.6 715.0 L392.8 713.0 L388.9 711.0 L385.1 709.0 L381.3 706.9 L377.5 704.8 L373.8 702.6 L370.0 700.4 L366.3 698.2 L362.6 695.9 L358.9 693.6 L355.2 691.3 L351.5 688.9 L347.9 686.4 L344.3 683.9 L340.7 681.4 L337.1 678.9 L333.5 676.3 L330.0 673.6 L326.5 671.0 L323.0 668.2 L319.5 665.5 L316.1 662.7 L312.6 659.8 L309.3 657.0 L305.9 654.0 L302.5 651.1 L299.2 648.1 L295.9 645.0 L292.7 642.0 L289.5 638.8 L286.3 635.7 L283.1 632.5 L279.9 629.3 L276.8 626.0 L273.8 622.7 L270.7 619.3 L267.7 615.9 L264.7 612.5 L261.8 609.0 L258.9 605.5 L256.0 602.0 L253.2 598.4 L250.4 594.8 L247.6 591.2 L244.9 587.5 L242.2 583.8 L239.6 580.0 L237.0 576.2 L234.4 572.4 L231.9 568.6 L229.4 564.7 L227.0 560.8 L224.6 556.8 L222.2 552.8 L219.9 548.8 L217.6 544.8 L215.4 540.7 L213.2 536.6 L211.1 532.5 L209.0 528.3 L206.9 524.1 L204.9 519.9 L202.9 515.7 L201.0 511.4 L199.1 507.1 L197.3 502.8 L195.5 498.5 L193.8 494.1 L192.1 489.7 L190.4 485.3 L188.8 480.9 L187.3 476.4 L185.8 471.9 L184.3 467.4 L182.9 462.9 L181.6 458.4 L180.3 453.8 L179.0 449.2 L177.8 444.6 L176.6 440.0 L175.5 435.4 L174.4 430.7 L173.4 426.1 L172.5 421.4 L171.5 416.7 L170.7 412.0 L169.9 407.3 L169.1 402.5 L168.4 397.8 L167.7 393.0 L167.1 388.2 L166.6 383.4 L166.0 378.6 L165.6 373.8 L165.2 369.0 L164.8 364.2 L164.5 359.4 L164.3 354.5 L164.1 349.7 L164.0 344.8 L163.9 339.9 L163.8 335.1 L163.8 330.2 L163.9 325.3 L164.0 320.4 L164.2 315.6 L164.4 310.7 L164.7 305.8 L165.0 300.9 L165.4 296.0 L165.8 291.1 L166.3 286.2 L166.9 281.3 L167.5 276.4 L168.1 271.5 L168.8 266.7 L169.6 261.8 L170.4 256.9 L171.2 252.0 L172.1 247.2 L173.1 242.3 L174.1 237.4 L175.2 232.6 L176.3 227.7 L177.5 222.9 L178.7 218.1 L180.0 213.2 L181.3 208.4 L182.7 203.6 L184.1 198.8 L185.6 194.1 L187.2 189.3 L188.8 184.5 L190.4 179.8 L192.1 175.0 L193.9 170.3 L195.7 165.6 L197.5 160.9 L199.4 156.3 L201.4 151.6 L203.4 147.0 L205.4 142.3 L207.5 137.7 L209.7 133.1 L211.9 128.6 L214.1 124.0 L216.4 119.5 L218.8 115.0 L221.2 110.5 L223.6 106.0 L226.1 101.5 L228.7 97.1 L231.3 92.7 L233.9 88.3 L236.6 84.0 L239.4 79.6 L242.2 75.3 L244.0 70.2 Z" fill="#1f1f1f"/>
<g font-size="18.80" fill="#1495b2" font-weight="normal" text-anchor="middle" stroke="#fff" stroke-width="0.3"><text x="70.6" y="199.4">Be careful</text><text x="70.6" y="228.2">what you</text><text x="70.6" y="257.0">centre. Who</text><text x="70.6" y="285.8">are you, in</text><text x="70.6" y="314.6">the problem,</text><text x="70.6" y="343.4">institution,</text><text x="70.6" y="372.2">and place?</text><text x="70.6" y="401.0">Be careful to</text><text x="70.6" y="429.8">look at</text><text x="70.6" y="458.6">systems and</text><text x="70.6" y="487.4">relationships.</text><text x="70.6" y="516.2">Centre</text><text x="70.6" y="545.0">relationships.</text></g><g font-size="18.80" fill="#1495b2" font-weight="normal" text-anchor="middle" stroke="#fff" stroke-width="0.3"><text x="1065.0" y="49.1">Pay attention to how you</text><text x="1065.0" y="78.0">are framing the problem.</text><text x="1065.0" y="106.8">Can you see the bigger</text><text x="1065.0" y="135.7">picture? Can you see the</text><text x="1065.0" y="164.6">problem differently?</text></g><g font-size="18.80" fill="#1495b2" font-weight="normal" text-anchor="middle" stroke="#fff" stroke-width="0.3"><text x="1095.0" y="554.2">Pay attention to</text><text x="1095.0" y="582.7">ethics and politics.</text><text x="1095.0" y="611.3">Critical reflection:</text><text x="1095.0" y="639.8">What are the power</text><text x="1095.0" y="668.3">relations? What is</text><text x="1095.0" y="696.9">visible or invisible in</text><text x="1095.0" y="725.4">your framing?</text></g><g font-size="18.80" fill="#1495b2" font-weight="normal" text-anchor="middle" stroke="#fff" stroke-width="0.3"><text x="192.0" y="711.4">Be careful with your</text><text x="192.0" y="739.9">knowledge technologies and</text><text x="192.0" y="768.5">outputs (i.e. how you</text><text x="192.0" y="797.0">represent things) - because</text><text x="192.0" y="825.6">that has power in itself.</text></g><text x="1108.5" y="841" font-size="15.1" fill="#222" text-anchor="middle">(C) 2026 Erena Le Heron</text><g font-size="36.40" fill="#0f9dbb" font-weight="bold" text-anchor="middle"><text transform="translate(601.5 297.2) scale(0.923 1)">Resourceful</text><text transform="translate(601.5 349.4) scale(0.923 1)">Geographies</text></g><g font-size="22.00" fill="#ff62c9" font-weight="bold" text-anchor="middle"><text transform="translate(601.3 398.7) scale(0.945 1)">A relational</text><text transform="translate(601.3 430.8) scale(0.945 1)">thinking</text><text transform="translate(601.3 462.8) scale(0.945 1)">process</text></g>
<g font-size="25" fill="#fff" font-weight="bold"><text x="564.3" y="83">2. Reframe</text><text x="312" y="337.6">I. Relate</text><text x="922.6" y="337">3.Reflect</text><text x="548.5" y="794.2">4. Re-present</text></g>
<path d="M694.6 60.8 L695.9 60.0 L697.1 59.3 L698.3 58.5 L699.6 57.8 L700.8 57.1 L702.1 56.4 L703.3 55.7 L704.6 55.0 L705.8 54.4 L707.1 53.7 L708.3 53.1 L709.6 52.5 L710.8 51.9 L712.1 51.3 L713.4 50.7 L714.6 50.2 L715.9 49.7 L717.2 49.1 L718.4 48.6 L719.7 48.1 L721.0 47.7 L722.3 47.2 L723.5 46.8 L724.8 46.3 L726.1 45.9 L727.4 45.5 L728.7 45.1 L730.0 44.7 L731.3 44.3 L732.6 44.0 L733.8 43.6 L735.1 43.3 L736.4 43.0 L737.7 42.7 L739.0 42.4 L740.3 42.1 L741.6 41.9 L742.9 41.6 L744.2 41.4 L745.5 41.1 L746.8 40.9 L748.1 40.7 L749.4 40.5 L750.8 40.3 L752.1 40.1 L753.4 40.0 L754.7 39.8 L756.0 39.7 L757.3 39.6 L758.6 39.4 L759.9 39.3 L761.3 39.2 L762.6 39.1 L763.9 39.1 L765.2 39.0 L766.5 38.9 L767.8 38.9 L769.2 38.9 L770.5 38.8 L771.8 38.8 L773.1 38.8 L774.5 38.8 L775.8 38.8 L777.1 38.8 L778.4 38.9 L779.8 38.9 L781.1 39.0 L782.4 39.0 L783.7 39.1 L785.1 39.2 L786.4 39.2 L787.7 39.3 L789.1 39.4 L790.4 39.5 L791.7 39.7 L793.0 39.8 L794.4 39.9 L795.7 40.1 L797.0 40.2 L798.4 40.4 L799.7 40.5 L801.0 40.7 L802.4 40.9 L803.7 41.1 L805.0 41.3 L806.4 41.5 L807.7 41.7 L809.0 41.9 L810.3 42.2 L811.7 42.4 L813.0 42.6 L814.3 42.9 L815.7 43.2 L817.0 43.4 L818.3 43.7 L819.6 44.0 L821.0 44.3 L822.3 44.6 L823.6 44.9 L824.9 45.2 L826.3 45.5 L827.6 45.8 L828.9 46.2 L830.2 46.5 L831.5 46.9 L832.9 47.2 L834.2 47.6 L835.5 47.9 L836.8 48.3 L838.1 48.7 L839.4 49.0 L840.7 49.4 L842.0 49.8 L843.3 50.2 L844.7 50.6 L846.0 51.0 L847.3 51.4 L848.6 51.9 L849.9 52.3 L851.2 52.7 L852.4 53.1 L853.7 53.6 L855.0 54.0 L856.3 54.5 L857.6 54.9 L858.9 55.4 L860.2 55.8 L861.5 56.3 L862.7 56.8 L864.0 57.2 L865.3 57.7 L866.6 58.2 L867.8 58.7 L869.1 59.2 L870.4 59.7 L871.6 60.2 L872.9 60.6 L874.1 61.2 L875.4 61.7 L876.6 62.2 L877.9 62.7 L879.1 63.2 L880.4 63.7 L881.6 64.2 L882.8 64.7 L884.1 65.3 L885.3 65.8 L886.5 66.3 L887.8 66.8 L889.0 67.4 L890.2 67.9 L891.4 68.5 L892.6 69.0 L893.8 69.5 L895.0 70.1 L896.2 70.6 L897.4 71.2 L898.6 71.7 L899.8 72.3 L902.3 66.8 L901.1 66.3 L899.9 65.7 L898.7 65.2 L897.5 64.6 L896.3 64.1 L895.1 63.5 L893.8 63.0 L892.6 62.4 L891.4 61.9 L890.2 61.3 L888.9 60.8 L887.7 60.3 L886.4 59.7 L885.2 59.2 L883.9 58.7 L882.7 58.2 L881.4 57.6 L880.2 57.1 L878.9 56.6 L877.6 56.1 L876.4 55.6 L875.1 55.1 L873.8 54.6 L872.5 54.1 L871.3 53.6 L870.0 53.1 L868.7 52.6 L867.4 52.1 L866.1 51.6 L864.8 51.1 L863.5 50.7 L862.2 50.2 L860.9 49.7 L859.6 49.3 L858.3 48.8 L857.0 48.3 L855.7 47.9 L854.4 47.5 L853.0 47.0 L851.7 46.6 L850.4 46.2 L849.1 45.7 L847.8 45.3 L846.4 44.9 L845.1 44.5 L843.8 44.1 L842.4 43.7 L841.1 43.3 L839.8 42.9 L838.4 42.5 L837.1 42.1 L835.8 41.8 L834.4 41.4 L833.1 41.1 L831.7 40.7 L830.4 40.4 L829.0 40.0 L827.7 39.7 L826.3 39.4 L825.0 39.0 L823.6 38.7 L822.3 38.4 L820.9 38.1 L819.6 37.8 L818.2 37.6 L816.8 37.3 L815.5 37.0 L814.1 36.8 L812.8 36.5 L811.4 36.3 L810.0 36.0 L808.7 35.8 L807.3 35.6 L805.9 35.4 L804.6 35.1 L803.2 35.0 L801.8 34.8 L800.5 34.6 L799.1 34.4 L797.7 34.3 L796.4 34.1 L795.0 34.0 L793.6 33.8 L792.2 33.7 L790.9 33.6 L789.5 33.5 L788.1 33.4 L786.8 33.3 L785.4 33.2 L784.0 33.2 L782.6 33.1 L781.3 33.1 L779.9 33.0 L778.5 33.0 L777.2 33.0 L775.8 33.0 L774.4 33.0 L773.1 33.1 L771.7 33.1 L770.3 33.1 L769.0 33.2 L767.6 33.3 L766.2 33.4 L764.9 33.4 L763.5 33.5 L762.1 33.7 L760.8 33.8 L759.4 33.9 L758.1 34.1 L756.7 34.3 L755.4 34.4 L754.0 34.6 L752.7 34.8 L751.3 35.0 L750.0 35.3 L748.6 35.5 L747.3 35.8 L745.9 36.0 L744.6 36.3 L743.3 36.6 L741.9 36.9 L740.6 37.2 L739.3 37.6 L737.9 37.9 L736.6 38.3 L735.3 38.6 L734.0 39.0 L732.6 39.4 L731.3 39.8 L730.0 40.3 L728.7 40.7 L727.4 41.2 L726.1 41.6 L724.8 42.1 L723.5 42.6 L722.2 43.1 L720.9 43.7 L719.6 44.2 L718.3 44.8 L717.0 45.3 L715.8 45.9 L714.5 46.5 L713.2 47.1 L712.0 47.8 L710.7 48.4 L709.4 49.1 L708.2 49.7 L706.9 50.4 L705.7 51.1 L704.4 51.8 L703.2 52.6 L701.9 53.3 L700.7 54.1 L699.5 54.9 L698.2 55.7 L697.0 56.5 L695.8 57.3 L694.6 58.1 L693.4 59.0 Z" fill="#1297b4"/><circle cx="694.0" cy="59.9" r="1.10" fill="#1297b4"/><path d="M903.2 67.7 L902.7 67.1 L902.1 66.5 L901.5 65.9 L900.9 65.3 L900.3 64.7 L899.8 64.1 L899.2 63.5 L898.6 62.9 L898.0 62.3 L897.4 61.7 L896.8 61.2 L896.3 60.6 L895.7 60.0 L895.1 59.4 L894.5 58.8 L893.9 58.2 L893.3 57.6 L892.8 57.0 L892.2 56.4 L891.6 55.8 L891.0 55.2 L890.4 54.6 L889.8 54.0 L887.6 56.0 L888.1 56.6 L888.5 57.3 L889.0 58.0 L889.5 58.7 L890.0 59.3 L890.5 60.0 L891.0 60.7 L891.5 61.3 L892.0 62.0 L892.5 62.7 L893.0 63.3 L893.5 64.0 L894.0 64.7 L894.5 65.4 L895.0 66.0 L895.5 66.7 L895.9 67.4 L896.4 68.0 L896.9 68.7 L897.4 69.4 L897.9 70.0 L898.4 70.7 L898.9 71.4 Z" fill="#1297b4"/><circle cx="888.7" cy="55.0" r="1.50" fill="#1297b4"/><circle cx="901.1" cy="69.5" r="2.85" fill="#1297b4"/><path d="M900.8 66.7 L900.0 66.8 L899.3 67.0 L898.5 67.1 L897.8 67.3 L897.0 67.4 L896.3 67.6 L895.5 67.7 L894.8 67.9 L894.0 68.0 L893.3 68.1 L892.5 68.3 L891.8 68.4 L891.0 68.6 L890.3 68.7 L889.5 68.9 L888.8 69.0 L888.0 69.1 L887.3 69.3 L886.5 69.4 L885.8 69.6 L885.0 69.7 L884.3 69.9 L883.5 70.0 L883.9 73.0 L884.6 73.0 L885.4 72.9 L886.2 72.9 L886.9 72.9 L887.7 72.9 L888.4 72.8 L889.2 72.8 L890.0 72.8 L890.7 72.7 L891.5 72.7 L892.3 72.7 L893.0 72.7 L893.8 72.6 L894.5 72.6 L895.3 72.6 L896.1 72.6 L896.8 72.5 L897.6 72.5 L898.4 72.5 L899.1 72.4 L899.9 72.4 L900.6 72.4 L901.4 72.4 Z" fill="#1297b4"/><circle cx="883.7" cy="71.5" r="1.50" fill="#1297b4"/><circle cx="901.1" cy="69.5" r="2.85" fill="#1297b4"/><path d="M355.0 345.4 L353.6 346.2 L352.2 347.0 L350.8 347.9 L349.5 348.8 L348.1 349.7 L346.8 350.7 L345.5 351.7 L344.2 352.7 L342.9 353.7 L341.6 354.7 L340.4 355.7 L339.1 356.8 L337.8 357.8 L336.6 358.9 L335.4 360.0 L334.1 361.0 L332.9 362.1 L331.6 363.2 L330.4 364.2 L329.2 365.3 L328.0 366.4 L326.7 367.4 L325.5 368.4 L324.3 369.5 L323.0 370.5 L321.8 371.5 L320.5 372.5 L319.3 373.4 L318.0 374.4 L316.8 375.3 L315.5 376.2 L314.2 377.1 L312.9 378.0 L311.6 378.8 L310.3 379.6 L309.0 380.4 L307.7 381.2 L306.4 381.9 L305.0 382.6 L303.7 383.3 L302.3 383.9 L300.9 384.5 L299.5 385.1 L298.1 385.7 L296.7 386.2 L295.2 386.8 L293.8 387.3 L292.3 387.7 L290.8 388.2 L289.4 388.6 L287.9 389.0 L286.3 389.4 L284.8 389.8 L283.3 390.2 L281.8 390.5 L280.2 390.9 L278.6 391.2 L277.1 391.5 L275.5 391.8 L273.9 392.1 L272.3 392.4 L270.8 392.7 L269.2 392.9 L267.6 393.2 L266.0 393.4 L264.3 393.7 L262.7 394.0 L261.1 394.2 L259.5 394.5 L257.9 394.7 L256.3 395.0 L254.6 395.2 L253.0 395.5 L251.4 395.7 L249.8 396.0 L248.2 396.2 L246.6 396.5 L245.0 396.7 L243.4 397.0 L241.8 397.2 L240.1 397.5 L238.5 397.7 L236.9 398.0 L235.3 398.2 L233.7 398.4 L232.2 398.7 L230.6 398.9 L229.0 399.1 L227.4 399.3 L225.8 399.5 L224.2 399.7 L222.6 399.9 L221.0 400.1 L219.4 400.3 L217.8 400.5 L216.3 400.6 L214.7 400.8 L213.1 400.9 L211.5 401.0 L209.9 401.2 L208.3 401.3 L206.8 401.4 L205.2 401.5 L203.6 401.5 L202.0 401.6 L200.5 401.7 L198.9 401.7 L197.3 401.7 L195.7 401.7 L194.2 401.7 L192.6 401.7 L191.0 401.7 L189.4 401.7 L187.9 401.6 L186.3 401.6 L184.7 401.5 L183.1 401.4 L181.5 401.3 L180.0 401.3 L178.4 401.1 L176.8 401.0 L175.2 400.9 L173.6 400.8 L172.0 400.6 L170.5 400.5 L168.9 400.3 L167.3 400.2 L165.7 400.0 L164.1 399.8 L162.5 399.6 L160.9 399.4 L159.4 399.2 L157.8 399.0 L156.2 398.8 L154.6 398.6 L153.0 398.4 L151.4 398.1 L149.8 397.9 L148.2 397.7 L146.7 397.4 L145.1 397.2 L143.5 396.9 L141.9 396.7 L140.3 396.4 L138.7 396.2 L137.1 395.9 L135.5 395.6 L133.9 395.4 L132.4 395.1 L130.8 394.8 L129.2 394.6 L127.6 394.3 L126.0 394.0 L124.4 393.8 L122.8 393.5 L121.2 393.2 L119.6 393.0 L118.0 392.7 L116.5 392.4 L115.5 398.3 L117.0 398.6 L118.6 398.9 L120.2 399.1 L121.8 399.4 L123.4 399.7 L125.0 399.9 L126.6 400.2 L128.2 400.5 L129.8 400.8 L131.4 401.0 L133.0 401.3 L134.6 401.5 L136.1 401.8 L137.7 402.1 L139.3 402.3 L140.9 402.6 L142.5 402.8 L144.1 403.1 L145.7 403.3 L147.4 403.6 L149.0 403.8 L150.6 404.1 L152.2 404.3 L153.8 404.5 L155.4 404.7 L157.0 405.0 L158.6 405.2 L160.2 405.4 L161.8 405.6 L163.4 405.8 L165.0 405.9 L166.6 406.1 L168.3 406.3 L169.9 406.4 L171.5 406.6 L173.1 406.7 L174.7 406.9 L176.3 407.0 L177.9 407.1 L179.6 407.2 L181.2 407.3 L182.8 407.4 L184.4 407.5 L186.0 407.6 L187.7 407.6 L189.3 407.7 L190.9 407.7 L192.5 407.7 L194.1 407.7 L195.8 407.7 L197.4 407.7 L199.0 407.7 L200.6 407.7 L202.3 407.6 L203.9 407.5 L205.5 407.5 L207.1 407.4 L208.8 407.3 L210.4 407.1 L212.0 407.0 L213.6 406.9 L215.2 406.7 L216.8 406.6 L218.5 406.4 L220.1 406.2 L221.7 406.1 L223.3 405.9 L224.9 405.7 L226.5 405.5 L228.2 405.3 L229.8 405.1 L231.4 404.8 L233.0 404.6 L234.6 404.4 L236.2 404.1 L237.8 403.9 L239.4 403.7 L241.1 403.4 L242.7 403.2 L244.3 402.9 L245.9 402.7 L247.5 402.4 L249.1 402.1 L250.7 401.9 L252.4 401.6 L254.0 401.4 L255.6 401.1 L257.2 400.8 L258.8 400.6 L260.4 400.3 L262.0 400.0 L263.7 399.8 L265.3 399.5 L266.9 399.2 L268.5 398.9 L270.2 398.6 L271.8 398.3 L273.4 398.0 L275.0 397.7 L276.6 397.4 L278.2 397.1 L279.8 396.7 L281.4 396.3 L283.0 395.9 L284.6 395.6 L286.2 395.1 L287.8 394.7 L289.3 394.2 L290.9 393.8 L292.4 393.3 L294.0 392.8 L295.5 392.2 L297.0 391.6 L298.5 391.0 L300.0 390.4 L301.5 389.8 L303.0 389.1 L304.4 388.4 L305.9 387.7 L307.3 386.9 L308.7 386.1 L310.1 385.2 L311.5 384.4 L312.8 383.5 L314.2 382.6 L315.5 381.7 L316.8 380.7 L318.1 379.7 L319.4 378.7 L320.6 377.7 L321.9 376.7 L323.1 375.7 L324.4 374.6 L325.6 373.5 L326.8 372.4 L328.0 371.4 L329.2 370.3 L330.4 369.1 L331.6 368.0 L332.8 366.9 L334.0 365.8 L335.2 364.7 L336.4 363.5 L337.6 362.4 L338.8 361.3 L339.9 360.2 L341.1 359.1 L342.3 358.0 L343.5 356.9 L344.7 355.9 L346.0 354.8 L347.2 353.8 L348.4 352.8 L349.7 351.8 L350.9 350.8 L352.2 349.9 L353.5 349.0 L354.8 348.1 L356.1 347.2 Z" fill="#1297b4"/><circle cx="355.6" cy="346.3" r="1.10" fill="#1297b4"/><path d="M116.8 398.2 L117.6 397.8 L118.5 397.5 L119.3 397.2 L120.2 396.9 L121.0 396.6 L121.9 396.3 L122.7 396.0 L123.6 395.6 L124.4 395.3 L125.3 395.0 L126.1 394.7 L127.0 394.4 L127.8 394.1 L128.7 393.8 L129.5 393.4 L130.4 393.1 L131.2 392.8 L132.1 392.5 L132.9 392.2 L133.8 391.9 L134.6 391.6 L135.5 391.3 L136.3 390.9 L135.5 388.1 L134.6 388.3 L133.7 388.5 L132.8 388.7 L131.9 388.9 L131.1 389.1 L130.2 389.3 L129.3 389.5 L128.4 389.7 L127.5 389.9 L126.6 390.1 L125.8 390.3 L124.9 390.5 L124.0 390.7 L123.1 390.9 L122.2 391.1 L121.3 391.3 L120.5 391.5 L119.6 391.7 L118.7 391.9 L117.8 392.1 L116.9 392.3 L116.0 392.5 L115.2 392.7 Z" fill="#1297b4"/><circle cx="135.9" cy="389.5" r="1.50" fill="#1297b4"/><circle cx="116.0" cy="395.4" r="2.85" fill="#1297b4"/><path d="M114.2 397.7 L115.0 398.2 L115.8 398.8 L116.7 399.3 L117.5 399.9 L118.3 400.4 L119.1 400.9 L119.9 401.5 L120.7 402.0 L121.5 402.6 L122.3 403.1 L123.1 403.7 L123.9 404.2 L124.7 404.8 L125.5 405.3 L126.3 405.8 L127.1 406.4 L127.9 406.9 L128.8 407.5 L129.6 408.0 L130.4 408.6 L131.2 409.1 L132.0 409.6 L132.8 410.2 L134.6 407.8 L133.9 407.2 L133.1 406.5 L132.4 405.9 L131.7 405.3 L130.9 404.6 L130.2 404.0 L129.5 403.4 L128.7 402.7 L128.0 402.1 L127.3 401.4 L126.5 400.8 L125.8 400.2 L125.1 399.5 L124.3 398.9 L123.6 398.3 L122.8 397.6 L122.1 397.0 L121.4 396.3 L120.6 395.7 L119.9 395.1 L119.2 394.4 L118.4 393.8 L117.7 393.2 Z" fill="#1297b4"/><circle cx="133.7" cy="409.0" r="1.50" fill="#1297b4"/><circle cx="116.0" cy="395.4" r="2.85" fill="#1297b4"/><path d="M1010.9 351.6 L1012.1 352.2 L1013.2 352.8 L1014.4 353.5 L1015.5 354.1 L1016.6 354.7 L1017.7 355.4 L1018.8 356.1 L1019.8 356.8 L1020.9 357.5 L1021.9 358.2 L1023.0 358.9 L1024.0 359.6 L1025.0 360.3 L1026.0 361.1 L1027.0 361.8 L1028.0 362.6 L1029.0 363.4 L1029.9 364.1 L1030.9 364.9 L1031.8 365.7 L1032.8 366.5 L1033.7 367.4 L1034.6 368.2 L1035.5 369.0 L1036.4 369.9 L1037.3 370.7 L1038.1 371.6 L1039.0 372.5 L1039.8 373.4 L1040.7 374.2 L1041.5 375.1 L1042.3 376.0 L1043.1 377.0 L1043.9 377.9 L1044.7 378.8 L1045.5 379.7 L1046.3 380.7 L1047.0 381.6 L1047.8 382.6 L1048.5 383.6 L1049.3 384.5 L1050.0 385.5 L1050.7 386.5 L1051.4 387.5 L1052.1 388.5 L1052.8 389.5 L1053.5 390.5 L1054.2 391.5 L1054.9 392.6 L1055.5 393.6 L1056.2 394.6 L1056.8 395.7 L1057.5 396.7 L1058.1 397.8 L1058.7 398.9 L1059.3 399.9 L1059.9 401.0 L1060.5 402.1 L1061.1 403.2 L1061.7 404.3 L1062.3 405.4 L1062.8 406.5 L1063.4 407.6 L1063.9 408.7 L1064.5 409.8 L1065.0 410.9 L1065.5 412.1 L1066.1 413.2 L1066.6 414.3 L1067.1 415.5 L1067.6 416.6 L1068.1 417.8 L1068.6 418.9 L1069.0 420.1 L1069.5 421.2 L1070.0 422.4 L1070.4 423.6 L1070.9 424.7 L1071.3 425.9 L1071.8 427.1 L1072.2 428.3 L1072.6 429.5 L1073.0 430.6 L1073.5 431.8 L1073.9 433.0 L1074.3 434.2 L1074.6 435.4 L1075.0 436.6 L1075.4 437.8 L1075.8 439.1 L1076.1 440.3 L1076.5 441.5 L1076.8 442.7 L1077.2 443.9 L1077.5 445.1 L1077.8 446.4 L1078.2 447.6 L1078.5 448.8 L1078.8 450.1 L1079.1 451.3 L1079.4 452.5 L1079.7 453.8 L1080.0 455.0 L1080.2 456.2 L1080.5 457.5 L1080.8 458.7 L1081.0 460.0 L1081.3 461.2 L1081.5 462.5 L1081.8 463.7 L1082.0 465.0 L1082.3 466.2 L1082.5 467.5 L1082.7 468.7 L1082.9 470.0 L1083.1 471.2 L1083.3 472.5 L1083.5 473.7 L1083.7 475.0 L1083.9 476.2 L1084.1 477.5 L1084.2 478.7 L1084.4 480.0 L1084.6 481.2 L1084.7 482.5 L1084.9 483.7 L1085.0 485.0 L1085.1 486.2 L1085.3 487.5 L1085.4 488.7 L1085.5 490.0 L1085.7 491.2 L1085.8 492.5 L1085.9 493.7 L1086.0 495.0 L1086.1 496.2 L1086.2 497.5 L1086.3 498.7 L1086.4 499.9 L1086.4 501.2 L1086.5 502.4 L1086.6 503.7 L1086.6 504.9 L1086.7 506.1 L1086.8 507.4 L1086.8 508.6 L1086.9 509.8 L1086.9 511.0 L1086.9 512.3 L1087.0 513.5 L1087.0 514.7 L1087.0 515.9 L1087.0 517.1 L1087.1 518.3 L1087.1 519.5 L1087.1 520.7 L1087.1 521.9 L1087.1 523.1 L1087.1 524.3 L1092.7 524.4 L1092.7 523.1 L1092.7 521.9 L1092.7 520.7 L1092.7 519.5 L1092.7 518.3 L1092.6 517.0 L1092.6 515.8 L1092.6 514.6 L1092.6 513.3 L1092.5 512.1 L1092.5 510.9 L1092.5 509.6 L1092.4 508.4 L1092.4 507.1 L1092.3 505.9 L1092.2 504.6 L1092.2 503.4 L1092.1 502.1 L1092.0 500.8 L1091.9 499.6 L1091.9 498.3 L1091.8 497.1 L1091.7 495.8 L1091.6 494.5 L1091.5 493.3 L1091.3 492.0 L1091.2 490.7 L1091.1 489.4 L1091.0 488.2 L1090.9 486.9 L1090.7 485.6 L1090.6 484.4 L1090.4 483.1 L1090.3 481.8 L1090.1 480.5 L1089.9 479.2 L1089.8 478.0 L1089.6 476.7 L1089.4 475.4 L1089.2 474.1 L1089.0 472.9 L1088.8 471.6 L1088.6 470.3 L1088.4 469.0 L1088.2 467.8 L1088.0 466.5 L1087.8 465.2 L1087.5 463.9 L1087.3 462.7 L1087.0 461.4 L1086.8 460.1 L1086.5 458.8 L1086.3 457.6 L1086.0 456.3 L1085.7 455.0 L1085.4 453.8 L1085.1 452.5 L1084.8 451.2 L1084.5 450.0 L1084.2 448.7 L1083.9 447.4 L1083.6 446.2 L1083.3 444.9 L1082.9 443.7 L1082.6 442.4 L1082.2 441.2 L1081.9 439.9 L1081.5 438.7 L1081.1 437.4 L1080.8 436.2 L1080.4 435.0 L1080.0 433.7 L1079.6 432.5 L1079.2 431.3 L1078.8 430.0 L1078.3 428.8 L1077.9 427.6 L1077.5 426.4 L1077.0 425.1 L1076.6 423.9 L1076.1 422.7 L1075.6 421.5 L1075.2 420.3 L1074.7 419.1 L1074.2 417.9 L1073.7 416.7 L1073.2 415.6 L1072.7 414.4 L1072.1 413.2 L1071.6 412.0 L1071.1 410.9 L1070.5 409.7 L1069.9 408.5 L1069.4 407.4 L1068.8 406.3 L1068.2 405.1 L1067.6 404.0 L1067.0 402.9 L1066.4 401.7 L1065.8 400.6 L1065.1 399.5 L1064.5 398.4 L1063.8 397.3 L1063.2 396.2 L1062.5 395.1 L1061.8 394.0 L1061.1 393.0 L1060.5 391.9 L1059.7 390.9 L1059.0 389.8 L1058.3 388.8 L1057.6 387.7 L1056.8 386.7 L1056.1 385.7 L1055.3 384.7 L1054.5 383.7 L1053.8 382.7 L1053.0 381.7 L1052.2 380.7 L1051.3 379.7 L1050.5 378.8 L1049.7 377.8 L1048.9 376.9 L1048.0 375.9 L1047.1 375.0 L1046.3 374.1 L1045.4 373.2 L1044.5 372.3 L1043.6 371.4 L1042.7 370.5 L1041.8 369.6 L1040.8 368.8 L1039.9 367.9 L1039.0 367.1 L1038.0 366.2 L1037.0 365.4 L1036.0 364.6 L1035.1 363.8 L1034.1 363.0 L1033.0 362.2 L1032.0 361.5 L1031.0 360.7 L1029.9 360.0 L1028.9 359.2 L1027.8 358.5 L1026.8 357.8 L1025.7 357.1 L1024.6 356.4 L1023.5 355.7 L1022.4 355.1 L1021.3 354.4 L1020.1 353.8 L1019.0 353.2 L1017.8 352.5 L1016.7 351.9 L1015.5 351.3 L1014.3 350.8 L1013.1 350.2 L1011.9 349.6 Z" fill="#1297b4"/><circle cx="1011.4" cy="350.6" r="1.10" fill="#1297b4"/><path d="M1092.2 523.3 L1091.8 522.8 L1091.4 522.2 L1091.0 521.6 L1090.6 521.0 L1090.2 520.4 L1089.8 519.8 L1089.4 519.3 L1089.0 518.7 L1088.7 518.1 L1088.3 517.5 L1087.9 516.9 L1087.5 516.4 L1087.1 515.8 L1086.7 515.2 L1086.3 514.6 L1085.9 514.0 L1085.5 513.4 L1085.1 512.9 L1084.7 512.3 L1084.3 511.7 L1083.9 511.1 L1083.5 510.5 L1083.1 509.9 L1080.5 511.5 L1080.8 512.1 L1081.1 512.7 L1081.4 513.4 L1081.7 514.0 L1082.1 514.6 L1082.4 515.3 L1082.7 515.9 L1083.0 516.5 L1083.3 517.2 L1083.6 517.8 L1083.9 518.4 L1084.2 519.1 L1084.5 519.7 L1084.8 520.3 L1085.1 521.0 L1085.5 521.6 L1085.8 522.2 L1086.1 522.9 L1086.4 523.5 L1086.7 524.1 L1087.0 524.8 L1087.3 525.4 L1087.6 526.0 Z" fill="#1297b4"/><circle cx="1081.8" cy="510.7" r="1.50" fill="#1297b4"/><circle cx="1089.9" cy="524.7" r="2.66" fill="#1297b4"/><path d="M1092.3 525.9 L1092.6 525.1 L1092.9 524.4 L1093.2 523.7 L1093.5 523.0 L1093.8 522.3 L1094.1 521.6 L1094.4 520.9 L1094.7 520.2 L1094.9 519.5 L1095.2 518.8 L1095.5 518.1 L1095.8 517.4 L1096.1 516.6 L1096.4 515.9 L1096.7 515.2 L1097.0 514.5 L1097.3 513.8 L1097.6 513.1 L1097.9 512.4 L1098.2 511.7 L1098.5 511.0 L1098.8 510.3 L1099.0 509.6 L1096.4 508.2 L1096.0 508.9 L1095.6 509.6 L1095.2 510.2 L1094.8 510.9 L1094.4 511.6 L1094.1 512.2 L1093.7 512.9 L1093.3 513.5 L1092.9 514.2 L1092.5 514.9 L1092.1 515.5 L1091.8 516.2 L1091.4 516.9 L1091.0 517.5 L1090.6 518.2 L1090.2 518.9 L1089.8 519.5 L1089.5 520.2 L1089.1 520.9 L1088.7 521.5 L1088.3 522.2 L1087.9 522.8 L1087.5 523.5 Z" fill="#1297b4"/><circle cx="1097.7" cy="508.9" r="1.50" fill="#1297b4"/><circle cx="1089.9" cy="524.7" r="2.66" fill="#1297b4"/><path d="M554.2 801.8 L553.1 802.9 L552.0 803.9 L550.9 804.9 L549.7 805.9 L548.6 806.8 L547.4 807.8 L546.3 808.7 L545.1 809.6 L543.9 810.5 L542.8 811.3 L541.6 812.2 L540.4 813.0 L539.2 813.8 L538.0 814.6 L536.8 815.4 L535.6 816.1 L534.4 816.9 L533.2 817.6 L531.9 818.3 L530.7 819.0 L529.5 819.7 L528.2 820.3 L527.0 820.9 L525.7 821.6 L524.5 822.2 L523.2 822.8 L522.0 823.3 L520.7 823.9 L519.4 824.4 L518.1 825.0 L516.9 825.5 L515.6 826.0 L514.3 826.5 L513.0 826.9 L511.7 827.4 L510.4 827.8 L509.1 828.2 L507.8 828.6 L506.5 829.0 L505.1 829.4 L503.8 829.8 L502.5 830.1 L501.2 830.5 L499.8 830.8 L498.5 831.1 L497.1 831.4 L495.8 831.7 L494.5 832.0 L493.1 832.2 L491.7 832.5 L490.4 832.7 L489.0 833.0 L487.7 833.2 L486.3 833.4 L484.9 833.6 L483.6 833.7 L482.2 833.9 L480.8 834.1 L479.4 834.2 L478.0 834.3 L476.6 834.5 L475.3 834.6 L473.9 834.7 L472.5 834.8 L471.1 834.8 L469.7 834.9 L468.3 835.0 L466.9 835.0 L465.5 835.1 L464.1 835.1 L462.7 835.1 L461.3 835.1 L459.8 835.1 L458.4 835.1 L457.0 835.1 L455.6 835.1 L454.2 835.0 L452.8 835.0 L451.3 834.9 L449.9 834.9 L448.5 834.8 L447.1 834.7 L445.6 834.6 L444.2 834.5 L442.8 834.4 L441.4 834.3 L439.9 834.2 L438.5 834.0 L437.1 833.9 L435.6 833.7 L434.2 833.6 L432.8 833.4 L431.4 833.2 L429.9 833.1 L428.5 832.9 L427.1 832.7 L425.6 832.5 L424.2 832.3 L422.8 832.1 L421.4 831.8 L419.9 831.6 L418.5 831.4 L417.1 831.1 L415.6 830.9 L414.2 830.6 L412.8 830.3 L411.4 830.1 L409.9 829.8 L408.5 829.5 L407.1 829.2 L405.7 828.9 L404.3 828.6 L402.8 828.3 L401.4 828.0 L400.0 827.7 L398.6 827.4 L397.2 827.1 L395.8 826.8 L394.4 826.4 L393.0 826.1 L391.6 825.8 L390.2 825.4 L388.8 825.1 L387.4 824.7 L386.0 824.3 L384.6 824.0 L383.2 823.6 L381.8 823.3 L380.4 822.9 L379.0 822.5 L377.7 822.1 L376.3 821.8 L374.9 821.4 L373.5 821.0 L372.2 820.6 L370.8 820.2 L369.4 819.8 L368.1 819.4 L366.7 819.0 L365.4 818.6 L364.0 818.2 L362.7 817.8 L361.3 817.4 L360.0 817.0 L358.7 816.6 L357.3 816.2 L356.0 815.8 L354.7 815.4 L353.4 815.0 L352.0 814.6 L350.7 814.1 L349.4 813.7 L348.1 813.3 L346.8 812.9 L345.5 812.5 L344.2 812.1 L343.0 811.7 L341.7 811.2 L340.4 810.8 L338.6 816.3 L339.9 816.8 L341.2 817.2 L342.5 817.6 L343.8 818.0 L345.1 818.4 L346.4 818.8 L347.7 819.3 L349.0 819.7 L350.3 820.1 L351.6 820.5 L353.0 820.9 L354.3 821.3 L355.6 821.7 L357.0 822.1 L358.3 822.6 L359.7 823.0 L361.0 823.4 L362.4 823.8 L363.7 824.2 L365.1 824.6 L366.4 825.0 L367.8 825.4 L369.2 825.8 L370.6 826.2 L372.0 826.6 L373.3 827.0 L374.7 827.3 L376.1 827.7 L377.5 828.1 L378.9 828.5 L380.3 828.9 L381.7 829.2 L383.1 829.6 L384.5 830.0 L385.9 830.3 L387.4 830.7 L388.8 831.0 L390.2 831.4 L391.6 831.7 L393.0 832.1 L394.5 832.4 L395.9 832.7 L397.3 833.1 L398.8 833.4 L400.2 833.7 L401.6 834.0 L403.1 834.3 L404.5 834.6 L405.9 834.9 L407.4 835.2 L408.8 835.5 L410.3 835.8 L411.7 836.1 L413.2 836.3 L414.6 836.6 L416.1 836.8 L417.5 837.1 L419.0 837.3 L420.4 837.6 L421.9 837.8 L423.4 838.0 L424.8 838.2 L426.3 838.4 L427.7 838.6 L429.2 838.8 L430.6 839.0 L432.1 839.2 L433.6 839.4 L435.0 839.5 L436.5 839.7 L438.0 839.8 L439.4 839.9 L440.9 840.1 L442.3 840.2 L443.8 840.3 L445.3 840.4 L446.7 840.5 L448.2 840.6 L449.6 840.7 L451.1 840.7 L452.6 840.8 L454.0 840.8 L455.5 840.9 L456.9 840.9 L458.4 840.9 L459.8 840.9 L461.3 840.9 L462.7 840.9 L464.2 840.8 L465.6 840.8 L467.1 840.7 L468.5 840.7 L470.0 840.6 L471.4 840.5 L472.9 840.4 L474.3 840.3 L475.7 840.1 L477.2 840.0 L478.6 839.8 L480.0 839.7 L481.4 839.5 L482.9 839.3 L484.3 839.1 L485.7 838.9 L487.1 838.7 L488.5 838.4 L489.9 838.2 L491.3 837.9 L492.7 837.6 L494.1 837.3 L495.5 837.0 L496.9 836.7 L498.3 836.3 L499.7 836.0 L501.1 835.6 L502.4 835.2 L503.8 834.8 L505.2 834.4 L506.5 834.0 L507.9 833.5 L509.2 833.1 L510.6 832.6 L511.9 832.1 L513.2 831.6 L514.6 831.1 L515.9 830.5 L517.2 830.0 L518.5 829.4 L519.8 828.8 L521.1 828.2 L522.4 827.6 L523.7 827.0 L525.0 826.3 L526.2 825.7 L527.5 825.0 L528.8 824.3 L530.0 823.6 L531.3 822.8 L532.5 822.1 L533.8 821.3 L535.0 820.5 L536.2 819.7 L537.4 818.9 L538.6 818.1 L539.8 817.2 L541.0 816.4 L542.2 815.5 L543.4 814.6 L544.5 813.6 L545.7 812.7 L546.8 811.7 L548.0 810.8 L549.1 809.8 L550.3 808.7 L551.4 807.7 L552.5 806.7 L553.6 805.6 L554.7 804.5 L555.8 803.4 Z" fill="#1297b4"/><circle cx="555.0" cy="802.6" r="1.10" fill="#1297b4"/><path d="M339.5 816.4 L340.3 816.2 L341.1 816.0 L341.9 815.8 L342.7 815.6 L343.5 815.5 L344.2 815.3 L345.0 815.1 L345.8 814.9 L346.6 814.8 L347.4 814.6 L348.2 814.4 L349.0 814.2 L349.8 814.1 L350.5 813.9 L351.3 813.7 L352.1 813.5 L352.9 813.3 L353.7 813.2 L354.5 813.0 L355.3 812.8 L356.1 812.6 L356.8 812.5 L357.6 812.3 L357.2 809.3 L356.4 809.4 L355.6 809.5 L354.8 809.5 L354.0 809.6 L353.2 809.7 L352.3 809.7 L351.5 809.8 L350.7 809.9 L349.9 809.9 L349.1 810.0 L348.3 810.1 L347.5 810.1 L346.7 810.2 L345.9 810.3 L345.1 810.4 L344.3 810.4 L343.5 810.5 L342.7 810.6 L341.9 810.6 L341.1 810.7 L340.3 810.8 L339.5 810.8 L338.7 810.9 Z" fill="#1297b4"/><circle cx="357.4" cy="810.8" r="1.50" fill="#1297b4"/><circle cx="339.1" cy="813.6" r="2.75" fill="#1297b4"/><path d="M337.0 815.5 L337.6 816.1 L338.3 816.7 L338.9 817.3 L339.5 817.9 L340.1 818.5 L340.7 819.1 L341.3 819.7 L341.9 820.3 L342.5 820.9 L343.1 821.6 L343.8 822.2 L344.4 822.8 L345.0 823.4 L345.6 824.0 L346.2 824.6 L346.8 825.2 L347.4 825.8 L348.0 826.4 L348.6 827.0 L349.2 827.7 L349.9 828.3 L350.5 828.9 L351.1 829.5 L353.3 827.5 L352.8 826.8 L352.3 826.1 L351.7 825.5 L351.2 824.8 L350.7 824.1 L350.2 823.4 L349.6 822.7 L349.1 822.0 L348.6 821.4 L348.0 820.7 L347.5 820.0 L347.0 819.3 L346.5 818.6 L345.9 818.0 L345.4 817.3 L344.9 816.6 L344.3 815.9 L343.8 815.2 L343.3 814.5 L342.8 813.9 L342.2 813.2 L341.7 812.5 L341.2 811.8 Z" fill="#1297b4"/><circle cx="352.2" cy="828.5" r="1.50" fill="#1297b4"/><circle cx="339.1" cy="813.6" r="2.75" fill="#1297b4"/>
</svg></body></html>
